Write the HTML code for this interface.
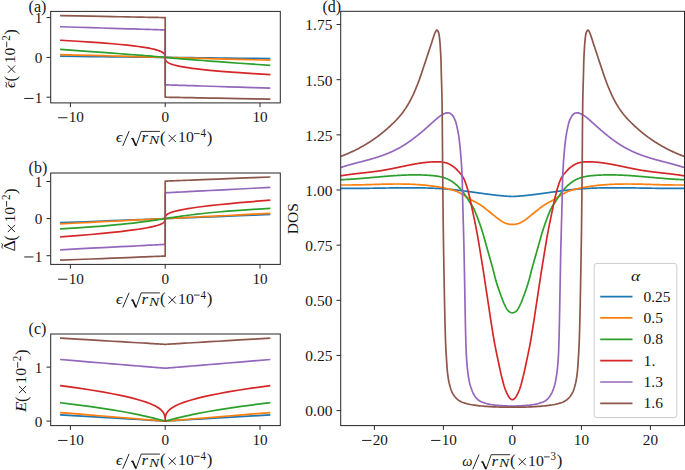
<!DOCTYPE html>
<html><head><meta charset="utf-8"><title>figure</title>
<style>
html,body{margin:0;padding:0;background:#fff;}
body{width:685px;height:470px;overflow:hidden;font-family:"Liberation Serif",serif;}
svg{display:block;}
</style></head><body>
<svg width="685" height="470" viewBox="0 0 685 470" font-family="'Liberation Serif', serif" fill="#161616">
<rect width="685" height="470" fill="#fff"/>
<clipPath id="cpa"><rect x="50.70" y="11.40" width="229.60" height="91.50"/></clipPath>
<g clip-path="url(#cpa)" fill="none" stroke-width="1.70" stroke-linejoin="round" stroke-linecap="square">
<path d="M60.92 56.21 L77.17 56.39 L90.89 56.55 L102.47 56.68 L112.25 56.79 L120.50 56.89 L127.47 56.97 L133.35 57.04 L138.31 57.09 L142.50 57.14 L146.04 57.18 L149.03 57.21 L151.55 57.24 L153.68 57.27 L155.47 57.29 L156.99 57.31 L158.27 57.32 L159.35 57.33 L160.26 57.34 L161.03 57.35 L161.68 57.36 L162.23 57.37 L162.69 57.37 L163.08 57.38 L163.41 57.38 L163.69 57.38 L163.93 57.39 L164.12 57.39 L164.29 57.39 L164.43 57.39 L164.55 57.39 L164.65 57.39 L164.74 57.39 L164.81 57.40 L164.87 57.40 L164.92 57.40 L164.97 57.40 L165.00 57.40 L165.03 57.40 L165.06 57.40 L165.08 57.40 L165.10 57.40 L165.12 57.40 L165.13 57.40 L165.14 57.40 L165.15 57.40 L165.16 57.40 L165.16 57.40 L165.17 57.40 L165.17 57.40 L165.18 57.40 L165.18 57.40 L165.18 57.40 L165.19 57.40 L165.19 57.40 L165.19 57.40 L165.19 57.40 L165.19 57.40 L165.19 57.40 L165.20 57.40 L165.20 57.40 L165.20 57.40 L165.20 57.40 L165.21 57.40 L165.21 57.40 L165.21 57.40 L165.21 57.40 L165.21 57.40 L165.21 57.40 L165.22 57.40 L165.22 57.40 L165.22 57.40 L165.23 57.40 L165.23 57.40 L165.24 57.40 L165.24 57.40 L165.25 57.40 L165.26 57.40 L165.27 57.40 L165.28 57.40 L165.30 57.40 L165.32 57.40 L165.34 57.40 L165.37 57.40 L165.40 57.40 L165.43 57.40 L165.48 57.40 L165.53 57.40 L165.59 57.40 L165.66 57.41 L165.75 57.41 L165.85 57.41 L165.97 57.41 L166.11 57.41 L166.28 57.41 L166.47 57.41 L166.71 57.42 L166.99 57.42 L167.32 57.42 L167.71 57.43 L168.17 57.43 L168.72 57.44 L169.37 57.45 L170.14 57.46 L171.05 57.47 L172.13 57.48 L173.41 57.49 L174.93 57.51 L176.72 57.53 L178.85 57.56 L181.37 57.59 L184.36 57.62 L187.90 57.66 L192.09 57.71 L197.05 57.76 L202.93 57.83 L209.90 57.91 L218.15 58.01 L227.93 58.12 L239.51 58.25 L253.23 58.41 L269.48 58.59" stroke="#1f77b4"/>
<path d="M60.92 54.61 L77.17 55.05 L90.89 55.41 L102.47 55.72 L112.25 55.99 L120.50 56.21 L127.47 56.39 L133.35 56.55 L138.31 56.68 L142.50 56.79 L146.04 56.89 L149.03 56.97 L151.55 57.04 L153.68 57.09 L155.47 57.14 L156.99 57.18 L158.27 57.21 L159.35 57.24 L160.26 57.27 L161.03 57.29 L161.68 57.31 L162.23 57.32 L162.69 57.33 L163.08 57.34 L163.41 57.35 L163.69 57.36 L163.93 57.37 L164.12 57.37 L164.29 57.38 L164.43 57.38 L164.55 57.38 L164.65 57.39 L164.74 57.39 L164.81 57.39 L164.87 57.39 L164.92 57.39 L164.97 57.39 L165.00 57.39 L165.03 57.40 L165.06 57.40 L165.08 57.40 L165.10 57.40 L165.12 57.40 L165.13 57.40 L165.14 57.40 L165.15 57.40 L165.16 57.40 L165.16 57.40 L165.17 57.40 L165.17 57.40 L165.18 57.40 L165.18 57.40 L165.18 57.40 L165.19 57.40 L165.19 57.40 L165.19 57.40 L165.19 57.40 L165.19 57.40 L165.19 57.40 L165.20 57.40 L165.20 57.40 L165.20 57.40 L165.20 57.40 L165.21 57.40 L165.21 57.40 L165.21 57.40 L165.21 57.40 L165.21 57.40 L165.21 57.40 L165.22 57.40 L165.22 57.40 L165.22 57.40 L165.23 57.40 L165.23 57.40 L165.24 57.40 L165.24 57.40 L165.25 57.40 L165.26 57.40 L165.27 57.40 L165.28 57.40 L165.30 57.40 L165.32 57.40 L165.34 57.40 L165.37 57.40 L165.40 57.41 L165.43 57.41 L165.48 57.41 L165.53 57.41 L165.59 57.41 L165.66 57.41 L165.75 57.41 L165.85 57.42 L165.97 57.42 L166.11 57.42 L166.28 57.43 L166.47 57.43 L166.71 57.44 L166.99 57.45 L167.32 57.46 L167.71 57.47 L168.17 57.48 L168.72 57.49 L169.37 57.51 L170.14 57.53 L171.05 57.56 L172.13 57.59 L173.41 57.62 L174.93 57.66 L176.72 57.71 L178.85 57.76 L181.37 57.83 L184.36 57.91 L187.90 58.01 L192.09 58.12 L197.05 58.25 L202.93 58.41 L209.90 58.59 L218.15 58.81 L227.93 59.08 L239.51 59.39 L253.23 59.75 L269.48 60.19" stroke="#ff7f0e"/>
<path d="M60.92 49.44 L77.17 50.59 L90.89 51.57 L102.47 52.41 L112.25 53.13 L120.50 53.75 L127.47 54.28 L133.35 54.73 L138.31 55.11 L142.50 55.44 L146.04 55.73 L149.03 55.97 L151.55 56.17 L153.68 56.35 L155.47 56.50 L156.99 56.63 L158.27 56.74 L159.35 56.84 L160.26 56.92 L161.03 56.99 L161.68 57.05 L162.23 57.10 L162.69 57.14 L163.08 57.18 L163.41 57.21 L163.69 57.24 L163.93 57.26 L164.12 57.28 L164.29 57.30 L164.43 57.31 L164.55 57.33 L164.65 57.34 L164.74 57.35 L164.81 57.35 L164.87 57.36 L164.92 57.37 L164.97 57.37 L165.00 57.38 L165.03 57.38 L165.06 57.38 L165.08 57.38 L165.10 57.39 L165.12 57.39 L165.13 57.39 L165.14 57.39 L165.15 57.39 L165.16 57.39 L165.16 57.39 L165.17 57.40 L165.17 57.40 L165.18 57.40 L165.18 57.40 L165.18 57.40 L165.19 57.40 L165.19 57.40 L165.19 57.40 L165.19 57.40 L165.19 57.40 L165.19 57.40 L165.20 57.40 L165.20 57.40 L165.20 57.40 L165.20 57.40 L165.21 57.40 L165.21 57.40 L165.21 57.40 L165.21 57.40 L165.21 57.40 L165.21 57.40 L165.22 57.40 L165.22 57.40 L165.22 57.40 L165.23 57.40 L165.23 57.40 L165.24 57.41 L165.24 57.41 L165.25 57.41 L165.26 57.41 L165.27 57.41 L165.28 57.41 L165.30 57.41 L165.32 57.42 L165.34 57.42 L165.37 57.42 L165.40 57.42 L165.43 57.43 L165.48 57.43 L165.53 57.44 L165.59 57.45 L165.66 57.45 L165.75 57.46 L165.85 57.47 L165.97 57.49 L166.11 57.50 L166.28 57.52 L166.47 57.54 L166.71 57.56 L166.99 57.59 L167.32 57.62 L167.71 57.66 L168.17 57.70 L168.72 57.75 L169.37 57.81 L170.14 57.88 L171.05 57.96 L172.13 58.06 L173.41 58.17 L174.93 58.30 L176.72 58.45 L178.85 58.63 L181.37 58.83 L184.36 59.07 L187.90 59.36 L192.09 59.69 L197.05 60.07 L202.93 60.52 L209.90 61.05 L218.15 61.67 L227.93 62.39 L239.51 63.23 L253.23 64.21 L269.48 65.36" stroke="#2ca02c"/>
<path d="M60.92 40.29 L77.17 41.23 L90.89 42.11 L102.47 42.95 L112.25 43.75 L120.50 44.50 L127.47 45.20 L133.35 45.87 L138.31 46.51 L142.50 47.11 L146.04 47.67 L149.03 48.21 L151.55 48.71 L153.68 49.19 L155.47 49.64 L156.99 50.06 L158.27 50.47 L159.35 50.85 L160.26 51.21 L161.03 51.55 L161.68 51.87 L162.23 52.17 L162.69 52.46 L163.08 52.73 L163.41 52.99 L163.69 53.23 L163.93 53.46 L164.12 53.68 L164.29 53.88 L164.43 54.07 L164.55 54.26 L164.65 54.43 L164.74 54.59 L164.81 54.75 L164.87 54.89 L164.92 55.03 L164.97 55.16 L165.00 55.28 L165.03 55.40 L165.06 55.51 L165.08 55.61 L165.10 55.71 L165.12 55.80 L165.13 55.89 L165.14 55.97 L165.15 56.05 L165.16 56.13 L165.16 56.20 L165.17 56.26 L165.17 56.32 L165.18 56.38 L165.18 56.44 L165.18 56.49 L165.19 56.54 L165.19 56.59 L165.19 56.63 L165.19 56.68 L165.19 56.72 L165.19 56.75 L165.20 56.79 L165.20 57.39 L165.20 57.41 L165.20 58.01 L165.21 58.05 L165.21 58.08 L165.21 58.12 L165.21 58.17 L165.21 58.21 L165.21 58.26 L165.22 58.31 L165.22 58.36 L165.22 58.42 L165.23 58.48 L165.23 58.54 L165.24 58.60 L165.24 58.67 L165.25 58.75 L165.26 58.83 L165.27 58.91 L165.28 59.00 L165.30 59.09 L165.32 59.19 L165.34 59.29 L165.37 59.40 L165.40 59.52 L165.43 59.64 L165.48 59.77 L165.53 59.91 L165.59 60.05 L165.66 60.21 L165.75 60.37 L165.85 60.54 L165.97 60.73 L166.11 60.92 L166.28 61.12 L166.47 61.34 L166.71 61.57 L166.99 61.81 L167.32 62.07 L167.71 62.34 L168.17 62.63 L168.72 62.93 L169.37 63.25 L170.14 63.59 L171.05 63.95 L172.13 64.33 L173.41 64.74 L174.93 65.16 L176.72 65.61 L178.85 66.09 L181.37 66.59 L184.36 67.13 L187.90 67.69 L192.09 68.29 L197.05 68.93 L202.93 69.60 L209.90 70.30 L218.15 71.05 L227.93 71.85 L239.51 72.69 L253.23 73.57 L269.48 74.51" stroke="#d62728"/>
<path d="M60.92 26.75 L77.17 27.25 L90.89 27.67 L102.47 28.02 L112.25 28.32 L120.50 28.57 L127.47 28.79 L133.35 28.97 L138.31 29.12 L142.50 29.25 L146.04 29.35 L149.03 29.44 L151.55 29.52 L153.68 29.59 L155.47 29.64 L156.99 29.69 L158.27 29.73 L159.35 29.76 L160.26 29.79 L161.03 29.81 L161.68 29.83 L162.23 29.85 L162.69 29.86 L163.08 29.87 L163.41 29.88 L163.69 29.89 L163.93 29.90 L164.12 29.91 L164.29 29.91 L164.43 29.91 L164.55 29.92 L164.65 29.92 L164.74 29.92 L164.81 29.93 L164.87 29.93 L164.92 29.93 L164.97 29.93 L165.00 29.93 L165.03 29.93 L165.06 29.93 L165.08 29.93 L165.10 29.93 L165.12 29.94 L165.13 29.94 L165.14 29.94 L165.15 29.94 L165.16 29.94 L165.16 29.94 L165.17 29.94 L165.17 29.94 L165.18 29.94 L165.18 29.94 L165.18 29.94 L165.19 29.94 L165.19 29.94 L165.19 29.94 L165.19 29.94 L165.19 29.94 L165.19 29.94 L165.20 29.94 L165.20 29.94 L165.20 84.86 L165.20 84.86 L165.21 84.86 L165.21 84.86 L165.21 84.86 L165.21 84.86 L165.21 84.86 L165.21 84.86 L165.22 84.86 L165.22 84.86 L165.22 84.86 L165.23 84.86 L165.23 84.86 L165.24 84.86 L165.24 84.86 L165.25 84.86 L165.26 84.86 L165.27 84.86 L165.28 84.86 L165.30 84.87 L165.32 84.87 L165.34 84.87 L165.37 84.87 L165.40 84.87 L165.43 84.87 L165.48 84.87 L165.53 84.87 L165.59 84.87 L165.66 84.88 L165.75 84.88 L165.85 84.88 L165.97 84.89 L166.11 84.89 L166.28 84.89 L166.47 84.90 L166.71 84.91 L166.99 84.92 L167.32 84.93 L167.71 84.94 L168.17 84.95 L168.72 84.97 L169.37 84.99 L170.14 85.01 L171.05 85.04 L172.13 85.07 L173.41 85.11 L174.93 85.16 L176.72 85.21 L178.85 85.28 L181.37 85.36 L184.36 85.45 L187.90 85.55 L192.09 85.68 L197.05 85.83 L202.93 86.01 L209.90 86.23 L218.15 86.48 L227.93 86.78 L239.51 87.13 L253.23 87.55 L269.48 88.05" stroke="#9467bd"/>
<path d="M60.92 15.61 L77.17 15.92 L90.89 16.18 L102.47 16.40 L112.25 16.59 L120.50 16.75 L127.47 16.88 L133.35 16.99 L138.31 17.09 L142.50 17.17 L146.04 17.23 L149.03 17.29 L151.55 17.34 L153.68 17.38 L155.47 17.41 L156.99 17.44 L158.27 17.47 L159.35 17.49 L160.26 17.51 L161.03 17.52 L161.68 17.53 L162.23 17.54 L162.69 17.55 L163.08 17.56 L163.41 17.57 L163.69 17.57 L163.93 17.58 L164.12 17.58 L164.29 17.58 L164.43 17.59 L164.55 17.59 L164.65 17.59 L164.74 17.59 L164.81 17.59 L164.87 17.59 L164.92 17.59 L164.97 17.60 L165.00 17.60 L165.03 17.60 L165.06 17.60 L165.08 17.60 L165.10 17.60 L165.12 17.60 L165.13 17.60 L165.14 17.60 L165.15 17.60 L165.16 17.60 L165.16 17.60 L165.17 17.60 L165.17 17.60 L165.18 17.60 L165.18 17.60 L165.18 17.60 L165.19 17.60 L165.19 17.60 L165.19 17.60 L165.19 17.60 L165.19 17.60 L165.19 17.60 L165.20 17.60 L165.20 17.60 L165.20 97.20 L165.20 97.20 L165.21 97.20 L165.21 97.20 L165.21 97.20 L165.21 97.20 L165.21 97.20 L165.21 97.20 L165.22 97.20 L165.22 97.20 L165.22 97.20 L165.23 97.20 L165.23 97.20 L165.24 97.20 L165.24 97.20 L165.25 97.20 L165.26 97.20 L165.27 97.20 L165.28 97.20 L165.30 97.20 L165.32 97.20 L165.34 97.20 L165.37 97.20 L165.40 97.20 L165.43 97.20 L165.48 97.21 L165.53 97.21 L165.59 97.21 L165.66 97.21 L165.75 97.21 L165.85 97.21 L165.97 97.21 L166.11 97.22 L166.28 97.22 L166.47 97.22 L166.71 97.23 L166.99 97.23 L167.32 97.24 L167.71 97.25 L168.17 97.26 L168.72 97.27 L169.37 97.28 L170.14 97.29 L171.05 97.31 L172.13 97.33 L173.41 97.36 L174.93 97.39 L176.72 97.42 L178.85 97.46 L181.37 97.51 L184.36 97.57 L187.90 97.63 L192.09 97.71 L197.05 97.81 L202.93 97.92 L209.90 98.05 L218.15 98.21 L227.93 98.40 L239.51 98.62 L253.23 98.88 L269.48 99.19" stroke="#8c564b"/>
</g>
<rect x="50.70" y="11.40" width="229.60" height="91.50" fill="none" stroke="#262626" stroke-width="1"/>
<line x1="70.40" y1="102.90" x2="70.40" y2="107.10" stroke="#262626" stroke-width="1"/>
<line x1="58.15" y1="117.74" x2="67.44" y2="117.74" stroke="#161616" stroke-width="0.95"/>
<text x="68.71" y="122.30" font-size="15.2" textLength="15.20" lengthAdjust="spacingAndGlyphs">10</text>
<line x1="165.20" y1="102.90" x2="165.20" y2="107.10" stroke="#262626" stroke-width="1"/>
<text x="161.40" y="122.30" font-size="15.2" textLength="7.60" lengthAdjust="spacingAndGlyphs">0</text>
<line x1="260.00" y1="102.90" x2="260.00" y2="107.10" stroke="#262626" stroke-width="1"/>
<text x="252.40" y="122.30" font-size="15.2" textLength="15.20" lengthAdjust="spacingAndGlyphs">10</text>
<line x1="46.50" y1="17.60" x2="50.70" y2="17.60" stroke="#262626" stroke-width="1"/>
<text x="34.80" y="23.40" font-size="15.2" textLength="7.60" lengthAdjust="spacingAndGlyphs">1</text>
<line x1="46.50" y1="57.40" x2="50.70" y2="57.40" stroke="#262626" stroke-width="1"/>
<text x="34.80" y="63.20" font-size="15.2" textLength="7.60" lengthAdjust="spacingAndGlyphs">0</text>
<line x1="46.50" y1="97.20" x2="50.70" y2="97.20" stroke="#262626" stroke-width="1"/>
<line x1="24.24" y1="98.44" x2="33.52" y2="98.44" stroke="#161616" stroke-width="0.95"/>
<text x="34.80" y="103.00" font-size="15.2" textLength="7.60" lengthAdjust="spacingAndGlyphs">1</text>
<text x="116.10" y="142.20" font-size="15.2" textLength="6.40" lengthAdjust="spacingAndGlyphs" font-style="italic">ϵ</text>
<line x1="122.80" y1="146.00" x2="129.10" y2="131.20" stroke="#161616" stroke-width="0.95"/>
<path d="M130.90 139.00 l1.5 -0.9 l3.6 7.9 l5.2 -14.6 h18.7" fill="none" stroke="#161616" stroke-width="0.9" stroke-linejoin="miter"/>
<path d="M132.50 138.20 l3.3 7.4" fill="none" stroke="#161616" stroke-width="1.6"/>
<text x="141.50" y="142.20" font-size="15.4" textLength="6.6" lengthAdjust="spacingAndGlyphs" font-style="italic">r</text>
<text x="148.90" y="144.10" font-size="11.6" textLength="10.3" lengthAdjust="spacingAndGlyphs" font-style="italic">N</text>
<text x="159.90" y="142.50" font-size="16.8">(</text>
<path d="M168.60 134.80 L175.80 142.00 M168.60 142.00 L175.80 134.80" stroke="#161616" stroke-width="0.95" fill="none"/>
<text x="178.10" y="142.20" font-size="15.2" textLength="15.7" lengthAdjust="spacingAndGlyphs">10</text>
<line x1="194.00" y1="133.60" x2="199.70" y2="133.60" stroke="#161616" stroke-width="0.85"/>
<text x="200.60" y="137.00" font-size="12.2" textLength="5.5" lengthAdjust="spacingAndGlyphs">4</text>
<text x="206.70" y="142.50" font-size="16.8">)</text>
<g transform="translate(15.30 57.45) rotate(-90)">
<text x="-30.60" y="0" font-size="14.6" textLength="6.4" lengthAdjust="spacingAndGlyphs" font-style="italic">ϵ</text>
<path d="M-30.00 -8.3 q1.3 -1.7 2.7 -0.7 t2.7 -0.7" fill="none" stroke="#161616" stroke-width="0.9"/>
<text x="-24.00" y="0.30" font-size="16.8">(</text>
<path d="M-15.30 -7.40 L-8.10 -0.20 M-15.30 -0.20 L-8.10 -7.40" stroke="#161616" stroke-width="0.95" fill="none"/>
<text x="-5.80" y="0.00" font-size="15.2" textLength="15.7" lengthAdjust="spacingAndGlyphs">10</text>
<line x1="10.10" y1="-8.60" x2="15.80" y2="-8.60" stroke="#161616" stroke-width="0.85"/>
<text x="16.70" y="-5.20" font-size="12.2" textLength="5.5" lengthAdjust="spacingAndGlyphs">2</text>
<text x="22.80" y="0.30" font-size="16.8">)</text>
</g>
<text x="28.6" y="11.70" font-size="16.0">(a)</text>
<clipPath id="cpb"><rect x="50.70" y="173.00" width="229.60" height="91.40"/></clipPath>
<g clip-path="url(#cpb)" fill="none" stroke-width="1.70" stroke-linejoin="round" stroke-linecap="square">
<path d="M60.92 222.68 L77.17 222.04 L90.89 221.51 L102.47 221.05 L112.25 220.67 L120.50 220.35 L127.47 220.08 L133.35 219.85 L138.31 219.65 L142.50 219.49 L146.04 219.35 L149.03 219.23 L151.55 219.13 L153.68 219.05 L155.47 218.98 L156.99 218.92 L158.27 218.87 L159.35 218.83 L160.26 218.79 L161.03 218.76 L161.68 218.74 L162.23 218.72 L162.69 218.70 L163.08 218.68 L163.41 218.67 L163.69 218.66 L163.93 218.65 L164.12 218.64 L164.29 218.64 L164.43 218.63 L164.55 218.63 L164.65 218.62 L164.74 218.62 L164.81 218.62 L164.87 218.61 L164.92 218.61 L164.97 218.61 L165.00 218.61 L165.03 218.61 L165.06 218.61 L165.08 218.60 L165.10 218.60 L165.12 218.60 L165.13 218.60 L165.14 218.60 L165.15 218.60 L165.16 218.60 L165.16 218.60 L165.17 218.60 L165.17 218.60 L165.18 218.60 L165.18 218.60 L165.18 218.60 L165.19 218.60 L165.19 218.60 L165.19 218.60 L165.19 218.60 L165.19 218.60 L165.19 218.60 L165.20 218.60 L165.20 218.60 L165.20 218.60 L165.20 218.60 L165.21 218.60 L165.21 218.60 L165.21 218.60 L165.21 218.60 L165.21 218.60 L165.21 218.60 L165.22 218.60 L165.22 218.60 L165.22 218.60 L165.23 218.60 L165.23 218.60 L165.24 218.60 L165.24 218.60 L165.25 218.60 L165.26 218.60 L165.27 218.60 L165.28 218.60 L165.30 218.60 L165.32 218.60 L165.34 218.59 L165.37 218.59 L165.40 218.59 L165.43 218.59 L165.48 218.59 L165.53 218.59 L165.59 218.58 L165.66 218.58 L165.75 218.58 L165.85 218.57 L165.97 218.57 L166.11 218.56 L166.28 218.56 L166.47 218.55 L166.71 218.54 L166.99 218.53 L167.32 218.52 L167.71 218.50 L168.17 218.48 L168.72 218.46 L169.37 218.44 L170.14 218.41 L171.05 218.37 L172.13 218.33 L173.41 218.28 L174.93 218.22 L176.72 218.15 L178.85 218.07 L181.37 217.97 L184.36 217.85 L187.90 217.71 L192.09 217.55 L197.05 217.35 L202.93 217.12 L209.90 216.85 L218.15 216.53 L227.93 216.15 L239.51 215.69 L253.23 215.16 L269.48 214.52" stroke="#1f77b4"/>
<path d="M60.92 223.79 L77.17 222.98 L90.89 222.30 L102.47 221.72 L112.25 221.24 L120.50 220.83 L127.47 220.48 L133.35 220.19 L138.31 219.94 L142.50 219.73 L146.04 219.55 L149.03 219.41 L151.55 219.28 L153.68 219.17 L155.47 219.08 L156.99 219.01 L158.27 218.95 L159.35 218.89 L160.26 218.85 L161.03 218.81 L161.68 218.78 L162.23 218.75 L162.69 218.72 L163.08 218.71 L163.41 218.69 L163.69 218.68 L163.93 218.66 L164.12 218.65 L164.29 218.65 L164.43 218.64 L164.55 218.63 L164.65 218.63 L164.74 218.62 L164.81 218.62 L164.87 218.62 L164.92 218.61 L164.97 218.61 L165.00 218.61 L165.03 218.61 L165.06 218.61 L165.08 218.61 L165.10 218.60 L165.12 218.60 L165.13 218.60 L165.14 218.60 L165.15 218.60 L165.16 218.60 L165.16 218.60 L165.17 218.60 L165.17 218.60 L165.18 218.60 L165.18 218.60 L165.18 218.60 L165.19 218.60 L165.19 218.60 L165.19 218.60 L165.19 218.60 L165.19 218.60 L165.19 218.60 L165.20 218.60 L165.20 218.60 L165.20 218.60 L165.20 218.60 L165.21 218.60 L165.21 218.60 L165.21 218.60 L165.21 218.60 L165.21 218.60 L165.21 218.60 L165.22 218.60 L165.22 218.60 L165.22 218.60 L165.23 218.60 L165.23 218.60 L165.24 218.60 L165.24 218.60 L165.25 218.60 L165.26 218.60 L165.27 218.60 L165.28 218.60 L165.30 218.60 L165.32 218.59 L165.34 218.59 L165.37 218.59 L165.40 218.59 L165.43 218.59 L165.48 218.59 L165.53 218.58 L165.59 218.58 L165.66 218.58 L165.75 218.57 L165.85 218.57 L165.97 218.56 L166.11 218.55 L166.28 218.55 L166.47 218.54 L166.71 218.52 L166.99 218.51 L167.32 218.49 L167.71 218.48 L168.17 218.45 L168.72 218.42 L169.37 218.39 L170.14 218.35 L171.05 218.31 L172.13 218.25 L173.41 218.19 L174.93 218.12 L176.72 218.03 L178.85 217.92 L181.37 217.79 L184.36 217.65 L187.90 217.47 L192.09 217.26 L197.05 217.01 L202.93 216.72 L209.90 216.37 L218.15 215.96 L227.93 215.48 L239.51 214.90 L253.23 214.22 L269.48 213.41" stroke="#ff7f0e"/>
<path d="M60.92 228.80 L77.17 227.83 L90.89 226.91 L102.47 226.03 L112.25 225.21 L120.50 224.43 L127.47 223.71 L133.35 223.06 L138.31 222.46 L142.50 221.93 L146.04 221.45 L149.03 221.04 L151.55 220.68 L153.68 220.36 L155.47 220.10 L156.99 219.87 L158.27 219.67 L159.35 219.51 L160.26 219.37 L161.03 219.25 L161.68 219.15 L162.23 219.06 L162.69 218.99 L163.08 218.93 L163.41 218.88 L163.69 218.83 L163.93 218.80 L164.12 218.77 L164.29 218.74 L164.43 218.72 L164.55 218.70 L164.65 218.69 L164.74 218.67 L164.81 218.66 L164.87 218.65 L164.92 218.64 L164.97 218.64 L165.00 218.63 L165.03 218.63 L165.06 218.62 L165.08 218.62 L165.10 218.62 L165.12 218.61 L165.13 218.61 L165.14 218.61 L165.15 218.61 L165.16 218.61 L165.16 218.61 L165.17 218.60 L165.17 218.60 L165.18 218.60 L165.18 218.60 L165.18 218.60 L165.19 218.60 L165.19 218.60 L165.19 218.60 L165.19 218.60 L165.19 218.60 L165.19 218.60 L165.20 218.60 L165.20 218.60 L165.20 218.60 L165.20 218.60 L165.21 218.60 L165.21 218.60 L165.21 218.60 L165.21 218.60 L165.21 218.60 L165.21 218.60 L165.22 218.60 L165.22 218.60 L165.22 218.60 L165.23 218.60 L165.23 218.60 L165.24 218.59 L165.24 218.59 L165.25 218.59 L165.26 218.59 L165.27 218.59 L165.28 218.59 L165.30 218.58 L165.32 218.58 L165.34 218.58 L165.37 218.57 L165.40 218.57 L165.43 218.56 L165.48 218.56 L165.53 218.55 L165.59 218.54 L165.66 218.53 L165.75 218.51 L165.85 218.50 L165.97 218.48 L166.11 218.46 L166.28 218.43 L166.47 218.40 L166.71 218.37 L166.99 218.32 L167.32 218.27 L167.71 218.21 L168.17 218.14 L168.72 218.05 L169.37 217.95 L170.14 217.83 L171.05 217.69 L172.13 217.53 L173.41 217.33 L174.93 217.10 L176.72 216.84 L178.85 216.52 L181.37 216.16 L184.36 215.75 L187.90 215.27 L192.09 214.74 L197.05 214.14 L202.93 213.49 L209.90 212.77 L218.15 211.99 L227.93 211.17 L239.51 210.29 L253.23 209.37 L269.48 208.40" stroke="#2ca02c"/>
<path d="M60.92 236.96 L77.17 235.67 L90.89 234.50 L102.47 233.42 L112.25 232.44 L120.50 231.54 L127.47 230.71 L133.35 229.94 L138.31 229.23 L142.50 228.58 L146.04 227.97 L149.03 227.40 L151.55 226.87 L153.68 226.38 L155.47 225.92 L156.99 225.50 L158.27 225.10 L159.35 224.72 L160.26 224.37 L161.03 224.04 L161.68 223.73 L162.23 223.44 L162.69 223.16 L163.08 222.91 L163.41 222.66 L163.69 222.44 L163.93 222.22 L164.12 222.02 L164.29 221.83 L164.43 221.65 L164.55 221.48 L164.65 221.32 L164.74 221.17 L164.81 221.03 L164.87 220.89 L164.92 220.77 L164.97 220.65 L165.00 220.53 L165.03 220.43 L165.06 220.33 L165.08 220.23 L165.10 220.14 L165.12 220.06 L165.13 219.98 L165.14 219.90 L165.15 219.83 L165.16 219.76 L165.16 219.70 L165.17 219.64 L165.17 219.58 L165.18 219.53 L165.18 219.47 L165.18 219.43 L165.19 219.38 L165.19 219.34 L165.19 219.30 L165.19 219.26 L165.19 219.22 L165.19 219.19 L165.20 219.16 L165.20 218.61 L165.20 218.59 L165.20 218.04 L165.21 218.01 L165.21 217.98 L165.21 217.94 L165.21 217.90 L165.21 217.86 L165.21 217.82 L165.22 217.77 L165.22 217.73 L165.22 217.67 L165.23 217.62 L165.23 217.56 L165.24 217.50 L165.24 217.44 L165.25 217.37 L165.26 217.30 L165.27 217.22 L165.28 217.14 L165.30 217.06 L165.32 216.97 L165.34 216.87 L165.37 216.77 L165.40 216.67 L165.43 216.55 L165.48 216.43 L165.53 216.31 L165.59 216.17 L165.66 216.03 L165.75 215.88 L165.85 215.72 L165.97 215.55 L166.11 215.37 L166.28 215.18 L166.47 214.98 L166.71 214.76 L166.99 214.54 L167.32 214.29 L167.71 214.04 L168.17 213.76 L168.72 213.47 L169.37 213.16 L170.14 212.83 L171.05 212.48 L172.13 212.10 L173.41 211.70 L174.93 211.28 L176.72 210.82 L178.85 210.33 L181.37 209.80 L184.36 209.23 L187.90 208.62 L192.09 207.97 L197.05 207.26 L202.93 206.49 L209.90 205.66 L218.15 204.76 L227.93 203.78 L239.51 202.70 L253.23 201.53 L269.48 200.24" stroke="#d62728"/>
<path d="M60.92 249.76 L77.17 248.93 L90.89 248.22 L102.47 247.62 L112.25 247.12 L120.50 246.69 L127.47 246.33 L133.35 246.03 L138.31 245.77 L142.50 245.56 L146.04 245.37 L149.03 245.22 L151.55 245.09 L153.68 244.98 L155.47 244.89 L156.99 244.81 L158.27 244.74 L159.35 244.69 L160.26 244.64 L161.03 244.60 L161.68 244.57 L162.23 244.54 L162.69 244.51 L163.08 244.49 L163.41 244.48 L163.69 244.46 L163.93 244.45 L164.12 244.44 L164.29 244.43 L164.43 244.42 L164.55 244.42 L164.65 244.41 L164.74 244.41 L164.81 244.40 L164.87 244.40 L164.92 244.40 L164.97 244.40 L165.00 244.39 L165.03 244.39 L165.06 244.39 L165.08 244.39 L165.10 244.39 L165.12 244.39 L165.13 244.39 L165.14 244.39 L165.15 244.39 L165.16 244.39 L165.16 244.39 L165.17 244.39 L165.17 244.39 L165.18 244.39 L165.18 244.39 L165.18 244.39 L165.19 244.39 L165.19 244.39 L165.19 244.38 L165.19 244.38 L165.19 244.38 L165.19 244.38 L165.20 244.38 L165.20 244.38 L165.20 192.82 L165.20 192.82 L165.21 192.82 L165.21 192.82 L165.21 192.82 L165.21 192.82 L165.21 192.81 L165.21 192.81 L165.22 192.81 L165.22 192.81 L165.22 192.81 L165.23 192.81 L165.23 192.81 L165.24 192.81 L165.24 192.81 L165.25 192.81 L165.26 192.81 L165.27 192.81 L165.28 192.81 L165.30 192.81 L165.32 192.81 L165.34 192.81 L165.37 192.81 L165.40 192.81 L165.43 192.80 L165.48 192.80 L165.53 192.80 L165.59 192.80 L165.66 192.79 L165.75 192.79 L165.85 192.78 L165.97 192.78 L166.11 192.77 L166.28 192.76 L166.47 192.75 L166.71 192.74 L166.99 192.72 L167.32 192.71 L167.71 192.69 L168.17 192.66 L168.72 192.63 L169.37 192.60 L170.14 192.56 L171.05 192.51 L172.13 192.46 L173.41 192.39 L174.93 192.31 L176.72 192.22 L178.85 192.11 L181.37 191.98 L184.36 191.83 L187.90 191.64 L192.09 191.43 L197.05 191.17 L202.93 190.87 L209.90 190.51 L218.15 190.08 L227.93 189.58 L239.51 188.98 L253.23 188.27 L269.48 187.44" stroke="#9467bd"/>
<path d="M60.92 260.15 L77.17 259.52 L90.89 258.98 L102.47 258.53 L112.25 258.14 L120.50 257.82 L127.47 257.55 L133.35 257.32 L138.31 257.12 L142.50 256.96 L146.04 256.82 L149.03 256.70 L151.55 256.61 L153.68 256.52 L155.47 256.45 L156.99 256.39 L158.27 256.34 L159.35 256.30 L160.26 256.26 L161.03 256.23 L161.68 256.21 L162.23 256.19 L162.69 256.17 L163.08 256.15 L163.41 256.14 L163.69 256.13 L163.93 256.12 L164.12 256.11 L164.29 256.11 L164.43 256.10 L164.55 256.10 L164.65 256.09 L164.74 256.09 L164.81 256.09 L164.87 256.08 L164.92 256.08 L164.97 256.08 L165.00 256.08 L165.03 256.08 L165.06 256.08 L165.08 256.08 L165.10 256.07 L165.12 256.07 L165.13 256.07 L165.14 256.07 L165.15 256.07 L165.16 256.07 L165.16 256.07 L165.17 256.07 L165.17 256.07 L165.18 256.07 L165.18 256.07 L165.18 256.07 L165.19 256.07 L165.19 256.07 L165.19 256.07 L165.19 256.07 L165.19 256.07 L165.19 256.07 L165.20 256.07 L165.20 256.07 L165.20 181.13 L165.20 181.13 L165.21 181.13 L165.21 181.13 L165.21 181.13 L165.21 181.13 L165.21 181.13 L165.21 181.13 L165.22 181.13 L165.22 181.13 L165.22 181.13 L165.23 181.13 L165.23 181.13 L165.24 181.13 L165.24 181.13 L165.25 181.13 L165.26 181.13 L165.27 181.13 L165.28 181.13 L165.30 181.13 L165.32 181.12 L165.34 181.12 L165.37 181.12 L165.40 181.12 L165.43 181.12 L165.48 181.12 L165.53 181.12 L165.59 181.11 L165.66 181.11 L165.75 181.11 L165.85 181.10 L165.97 181.10 L166.11 181.09 L166.28 181.09 L166.47 181.08 L166.71 181.07 L166.99 181.06 L167.32 181.05 L167.71 181.03 L168.17 181.01 L168.72 180.99 L169.37 180.97 L170.14 180.94 L171.05 180.90 L172.13 180.86 L173.41 180.81 L174.93 180.75 L176.72 180.68 L178.85 180.59 L181.37 180.50 L184.36 180.38 L187.90 180.24 L192.09 180.08 L197.05 179.88 L202.93 179.65 L209.90 179.38 L218.15 179.06 L227.93 178.67 L239.51 178.22 L253.23 177.68 L269.48 177.05" stroke="#8c564b"/>
</g>
<rect x="50.70" y="173.00" width="229.60" height="91.40" fill="none" stroke="#262626" stroke-width="1"/>
<line x1="70.40" y1="264.40" x2="70.40" y2="268.60" stroke="#262626" stroke-width="1"/>
<line x1="58.15" y1="279.24" x2="67.44" y2="279.24" stroke="#161616" stroke-width="0.95"/>
<text x="68.71" y="283.80" font-size="15.2" textLength="15.20" lengthAdjust="spacingAndGlyphs">10</text>
<line x1="165.20" y1="264.40" x2="165.20" y2="268.60" stroke="#262626" stroke-width="1"/>
<text x="161.40" y="283.80" font-size="15.2" textLength="7.60" lengthAdjust="spacingAndGlyphs">0</text>
<line x1="260.00" y1="264.40" x2="260.00" y2="268.60" stroke="#262626" stroke-width="1"/>
<text x="252.40" y="283.80" font-size="15.2" textLength="15.20" lengthAdjust="spacingAndGlyphs">10</text>
<line x1="46.50" y1="181.50" x2="50.70" y2="181.50" stroke="#262626" stroke-width="1"/>
<text x="34.80" y="187.30" font-size="15.2" textLength="7.60" lengthAdjust="spacingAndGlyphs">1</text>
<line x1="46.50" y1="218.60" x2="50.70" y2="218.60" stroke="#262626" stroke-width="1"/>
<text x="34.80" y="224.40" font-size="15.2" textLength="7.60" lengthAdjust="spacingAndGlyphs">0</text>
<line x1="46.50" y1="255.70" x2="50.70" y2="255.70" stroke="#262626" stroke-width="1"/>
<line x1="24.24" y1="256.94" x2="33.52" y2="256.94" stroke="#161616" stroke-width="0.95"/>
<text x="34.80" y="261.50" font-size="15.2" textLength="7.60" lengthAdjust="spacingAndGlyphs">1</text>
<text x="116.10" y="303.70" font-size="15.2" textLength="6.40" lengthAdjust="spacingAndGlyphs" font-style="italic">ϵ</text>
<line x1="122.80" y1="307.50" x2="129.10" y2="292.70" stroke="#161616" stroke-width="0.95"/>
<path d="M130.90 300.50 l1.5 -0.9 l3.6 7.9 l5.2 -14.6 h18.7" fill="none" stroke="#161616" stroke-width="0.9" stroke-linejoin="miter"/>
<path d="M132.50 299.70 l3.3 7.4" fill="none" stroke="#161616" stroke-width="1.6"/>
<text x="141.50" y="303.70" font-size="15.4" textLength="6.6" lengthAdjust="spacingAndGlyphs" font-style="italic">r</text>
<text x="148.90" y="305.60" font-size="11.6" textLength="10.3" lengthAdjust="spacingAndGlyphs" font-style="italic">N</text>
<text x="159.90" y="304.00" font-size="16.8">(</text>
<path d="M168.60 296.30 L175.80 303.50 M168.60 303.50 L175.80 296.30" stroke="#161616" stroke-width="0.95" fill="none"/>
<text x="178.10" y="303.70" font-size="15.2" textLength="15.7" lengthAdjust="spacingAndGlyphs">10</text>
<line x1="194.00" y1="295.10" x2="199.70" y2="295.10" stroke="#161616" stroke-width="0.85"/>
<text x="200.60" y="298.50" font-size="12.2" textLength="5.5" lengthAdjust="spacingAndGlyphs">4</text>
<text x="206.70" y="304.00" font-size="16.8">)</text>
<g transform="translate(15.20 219.00) rotate(-90)">
<text x="-32.60" y="0" font-size="16.0" textLength="11.4" lengthAdjust="spacingAndGlyphs">Δ</text>
<path d="M-29.60 -12.3 q1.3 -1.7 2.7 -0.7 t2.7 -0.7" fill="none" stroke="#161616" stroke-width="0.9"/>
<text x="-21.80" y="0.30" font-size="16.8">(</text>
<path d="M-13.10 -7.40 L-5.90 -0.20 M-13.10 -0.20 L-5.90 -7.40" stroke="#161616" stroke-width="0.95" fill="none"/>
<text x="-3.60" y="0.00" font-size="15.2" textLength="15.7" lengthAdjust="spacingAndGlyphs">10</text>
<line x1="12.30" y1="-8.60" x2="18.00" y2="-8.60" stroke="#161616" stroke-width="0.85"/>
<text x="18.90" y="-5.20" font-size="12.2" textLength="5.5" lengthAdjust="spacingAndGlyphs">2</text>
<text x="25.00" y="0.30" font-size="16.8">)</text>
</g>
<text x="28.6" y="173.30" font-size="16.0">(b)</text>
<clipPath id="cpc"><rect x="50.70" y="334.00" width="229.60" height="91.60"/></clipPath>
<g clip-path="url(#cpc)" fill="none" stroke-width="1.70" stroke-linejoin="round" stroke-linecap="square">
<path d="M60.92 414.94 L77.17 415.90 L90.89 416.71 L102.47 417.40 L112.25 417.97 L120.50 418.46 L127.47 418.87 L133.35 419.22 L138.31 419.51 L142.50 419.76 L146.04 419.97 L149.03 420.15 L151.55 420.29 L153.68 420.42 L155.47 420.53 L156.99 420.62 L158.27 420.69 L159.35 420.75 L160.26 420.81 L161.03 420.85 L161.68 420.89 L162.23 420.92 L162.69 420.95 L163.08 420.97 L163.41 420.99 L163.69 421.01 L163.93 421.02 L164.12 421.04 L164.29 421.05 L164.43 421.05 L164.55 421.06 L164.65 421.07 L164.74 421.07 L164.81 421.08 L164.87 421.08 L164.92 421.08 L164.97 421.09 L165.00 421.09 L165.03 421.09 L165.06 421.09 L165.08 421.09 L165.10 421.09 L165.12 421.10 L165.13 421.10 L165.14 421.10 L165.15 421.10 L165.16 421.10 L165.16 421.10 L165.17 421.10 L165.17 421.10 L165.18 421.10 L165.18 421.10 L165.18 421.10 L165.19 421.10 L165.19 421.10 L165.19 421.10 L165.19 421.10 L165.19 421.10 L165.19 421.10 L165.20 421.10 L165.20 421.10 L165.20 421.10 L165.20 421.10 L165.21 421.10 L165.21 421.10 L165.21 421.10 L165.21 421.10 L165.21 421.10 L165.21 421.10 L165.22 421.10 L165.22 421.10 L165.22 421.10 L165.23 421.10 L165.23 421.10 L165.24 421.10 L165.24 421.10 L165.25 421.10 L165.26 421.10 L165.27 421.10 L165.28 421.10 L165.30 421.09 L165.32 421.09 L165.34 421.09 L165.37 421.09 L165.40 421.09 L165.43 421.09 L165.48 421.08 L165.53 421.08 L165.59 421.08 L165.66 421.07 L165.75 421.07 L165.85 421.06 L165.97 421.05 L166.11 421.05 L166.28 421.04 L166.47 421.02 L166.71 421.01 L166.99 420.99 L167.32 420.97 L167.71 420.95 L168.17 420.92 L168.72 420.89 L169.37 420.85 L170.14 420.81 L171.05 420.75 L172.13 420.69 L173.41 420.62 L174.93 420.53 L176.72 420.42 L178.85 420.29 L181.37 420.15 L184.36 419.97 L187.90 419.76 L192.09 419.51 L197.05 419.22 L202.93 418.87 L209.90 418.46 L218.15 417.97 L227.93 417.40 L239.51 416.71 L253.23 415.90 L269.48 414.94" stroke="#1f77b4"/>
<path d="M60.92 412.65 L77.17 413.97 L90.89 415.08 L102.47 416.02 L112.25 416.81 L120.50 417.48 L127.47 418.04 L133.35 418.52 L138.31 418.92 L142.50 419.26 L146.04 419.55 L149.03 419.79 L151.55 419.99 L153.68 420.17 L155.47 420.31 L156.99 420.43 L158.27 420.54 L159.35 420.63 L160.26 420.70 L161.03 420.76 L161.68 420.81 L162.23 420.86 L162.69 420.90 L163.08 420.93 L163.41 420.96 L163.69 420.98 L163.93 421.00 L164.12 421.01 L164.29 421.03 L164.43 421.04 L164.55 421.05 L164.65 421.06 L164.74 421.06 L164.81 421.07 L164.87 421.07 L164.92 421.08 L164.97 421.08 L165.00 421.08 L165.03 421.09 L165.06 421.09 L165.08 421.09 L165.10 421.09 L165.12 421.09 L165.13 421.09 L165.14 421.10 L165.15 421.10 L165.16 421.10 L165.16 421.10 L165.17 421.10 L165.17 421.10 L165.18 421.10 L165.18 421.10 L165.18 421.10 L165.19 421.10 L165.19 421.10 L165.19 421.10 L165.19 421.10 L165.19 421.10 L165.19 421.10 L165.20 421.10 L165.20 421.10 L165.20 421.10 L165.20 421.10 L165.21 421.10 L165.21 421.10 L165.21 421.10 L165.21 421.10 L165.21 421.10 L165.21 421.10 L165.22 421.10 L165.22 421.10 L165.22 421.10 L165.23 421.10 L165.23 421.10 L165.24 421.10 L165.24 421.10 L165.25 421.10 L165.26 421.10 L165.27 421.09 L165.28 421.09 L165.30 421.09 L165.32 421.09 L165.34 421.09 L165.37 421.09 L165.40 421.08 L165.43 421.08 L165.48 421.08 L165.53 421.07 L165.59 421.07 L165.66 421.06 L165.75 421.06 L165.85 421.05 L165.97 421.04 L166.11 421.03 L166.28 421.01 L166.47 421.00 L166.71 420.98 L166.99 420.96 L167.32 420.93 L167.71 420.90 L168.17 420.86 L168.72 420.81 L169.37 420.76 L170.14 420.70 L171.05 420.63 L172.13 420.54 L173.41 420.43 L174.93 420.31 L176.72 420.17 L178.85 419.99 L181.37 419.79 L184.36 419.55 L187.90 419.26 L192.09 418.92 L197.05 418.52 L202.93 418.04 L209.90 417.48 L218.15 416.81 L227.93 416.02 L239.51 415.08 L253.23 413.97 L269.48 412.65" stroke="#ff7f0e"/>
<path d="M60.92 402.74 L77.17 404.79 L90.89 406.65 L102.47 408.34 L112.25 409.88 L120.50 411.27 L127.47 412.53 L133.35 413.67 L138.31 414.68 L142.50 415.58 L146.04 416.37 L149.03 417.06 L151.55 417.65 L153.68 418.16 L155.47 418.60 L156.99 418.98 L158.27 419.30 L159.35 419.57 L160.26 419.81 L161.03 420.00 L161.68 420.17 L162.23 420.31 L162.69 420.43 L163.08 420.53 L163.41 420.62 L163.69 420.69 L163.93 420.76 L164.12 420.81 L164.29 420.85 L164.43 420.89 L164.55 420.92 L164.65 420.95 L164.74 420.97 L164.81 420.99 L164.87 421.01 L164.92 421.02 L164.97 421.03 L165.00 421.04 L165.03 421.05 L165.06 421.06 L165.08 421.07 L165.10 421.07 L165.12 421.08 L165.13 421.08 L165.14 421.08 L165.15 421.08 L165.16 421.09 L165.16 421.09 L165.17 421.09 L165.17 421.09 L165.18 421.09 L165.18 421.09 L165.18 421.10 L165.19 421.10 L165.19 421.10 L165.19 421.10 L165.19 421.10 L165.19 421.10 L165.19 421.10 L165.20 421.10 L165.20 421.10 L165.20 421.10 L165.20 421.10 L165.21 421.10 L165.21 421.10 L165.21 421.10 L165.21 421.10 L165.21 421.10 L165.21 421.10 L165.22 421.10 L165.22 421.09 L165.22 421.09 L165.23 421.09 L165.23 421.09 L165.24 421.09 L165.24 421.09 L165.25 421.08 L165.26 421.08 L165.27 421.08 L165.28 421.08 L165.30 421.07 L165.32 421.07 L165.34 421.06 L165.37 421.05 L165.40 421.04 L165.43 421.03 L165.48 421.02 L165.53 421.01 L165.59 420.99 L165.66 420.97 L165.75 420.95 L165.85 420.92 L165.97 420.89 L166.11 420.85 L166.28 420.81 L166.47 420.76 L166.71 420.69 L166.99 420.62 L167.32 420.53 L167.71 420.43 L168.17 420.31 L168.72 420.17 L169.37 420.00 L170.14 419.81 L171.05 419.57 L172.13 419.30 L173.41 418.98 L174.93 418.60 L176.72 418.16 L178.85 417.65 L181.37 417.06 L184.36 416.37 L187.90 415.58 L192.09 414.68 L197.05 413.67 L202.93 412.53 L209.90 411.27 L218.15 409.88 L227.93 408.34 L239.51 406.65 L253.23 404.79 L269.48 402.74" stroke="#2ca02c"/>
<path d="M60.92 385.70 L77.17 387.95 L90.89 390.03 L102.47 391.95 L112.25 393.73 L120.50 395.39 L127.47 396.93 L133.35 398.36 L138.31 399.70 L142.50 400.95 L146.04 402.12 L149.03 403.22 L151.55 404.25 L153.68 405.21 L155.47 406.11 L156.99 406.96 L158.27 407.76 L159.35 408.51 L160.26 409.22 L161.03 409.89 L161.68 410.52 L162.23 411.11 L162.69 411.66 L163.08 412.19 L163.41 412.68 L163.69 413.15 L163.93 413.59 L164.12 414.01 L164.29 414.40 L164.43 414.77 L164.55 415.12 L164.65 415.45 L164.74 415.76 L164.81 416.06 L164.87 416.33 L164.92 416.60 L164.97 416.84 L165.00 417.08 L165.03 417.30 L165.06 417.51 L165.08 417.71 L165.10 417.89 L165.12 418.07 L165.13 418.24 L165.14 418.39 L165.15 418.54 L165.16 418.68 L165.16 418.82 L165.17 418.94 L165.17 419.06 L165.18 419.17 L165.18 419.28 L165.18 419.38 L165.19 419.47 L165.19 419.56 L165.19 419.65 L165.19 419.73 L165.19 419.80 L165.19 419.87 L165.20 419.94 L165.20 421.09 L165.20 421.09 L165.20 419.94 L165.21 419.87 L165.21 419.80 L165.21 419.73 L165.21 419.65 L165.21 419.56 L165.21 419.47 L165.22 419.38 L165.22 419.28 L165.22 419.17 L165.23 419.06 L165.23 418.94 L165.24 418.82 L165.24 418.68 L165.25 418.54 L165.26 418.39 L165.27 418.24 L165.28 418.07 L165.30 417.89 L165.32 417.71 L165.34 417.51 L165.37 417.30 L165.40 417.08 L165.43 416.84 L165.48 416.60 L165.53 416.33 L165.59 416.06 L165.66 415.76 L165.75 415.45 L165.85 415.12 L165.97 414.77 L166.11 414.40 L166.28 414.01 L166.47 413.59 L166.71 413.15 L166.99 412.68 L167.32 412.19 L167.71 411.66 L168.17 411.11 L168.72 410.52 L169.37 409.89 L170.14 409.22 L171.05 408.51 L172.13 407.76 L173.41 406.96 L174.93 406.11 L176.72 405.21 L178.85 404.25 L181.37 403.22 L184.36 402.12 L187.90 400.95 L192.09 399.70 L197.05 398.36 L202.93 396.93 L209.90 395.39 L218.15 393.73 L227.93 391.95 L239.51 390.03 L253.23 387.95 L269.48 385.70" stroke="#d62728"/>
<path d="M60.92 359.57 L77.17 360.92 L90.89 362.06 L102.47 363.02 L112.25 363.83 L120.50 364.52 L127.47 365.10 L133.35 365.58 L138.31 365.99 L142.50 366.34 L146.04 366.63 L149.03 366.88 L151.55 367.09 L153.68 367.26 L155.47 367.41 L156.99 367.54 L158.27 367.64 L159.35 367.73 L160.26 367.81 L161.03 367.87 L161.68 367.92 L162.23 367.97 L162.69 368.01 L163.08 368.04 L163.41 368.07 L163.69 368.09 L163.93 368.11 L164.12 368.13 L164.29 368.14 L164.43 368.15 L164.55 368.16 L164.65 368.17 L164.74 368.18 L164.81 368.18 L164.87 368.19 L164.92 368.19 L164.97 368.20 L165.00 368.20 L165.03 368.20 L165.06 368.20 L165.08 368.21 L165.10 368.21 L165.12 368.21 L165.13 368.21 L165.14 368.21 L165.15 368.21 L165.16 368.21 L165.16 368.21 L165.17 368.21 L165.17 368.21 L165.18 368.21 L165.18 368.21 L165.18 368.21 L165.19 368.21 L165.19 368.21 L165.19 368.21 L165.19 368.21 L165.19 368.21 L165.19 368.21 L165.20 368.21 L165.20 368.22 L165.20 368.22 L165.20 368.21 L165.21 368.21 L165.21 368.21 L165.21 368.21 L165.21 368.21 L165.21 368.21 L165.21 368.21 L165.22 368.21 L165.22 368.21 L165.22 368.21 L165.23 368.21 L165.23 368.21 L165.24 368.21 L165.24 368.21 L165.25 368.21 L165.26 368.21 L165.27 368.21 L165.28 368.21 L165.30 368.21 L165.32 368.21 L165.34 368.20 L165.37 368.20 L165.40 368.20 L165.43 368.20 L165.48 368.19 L165.53 368.19 L165.59 368.18 L165.66 368.18 L165.75 368.17 L165.85 368.16 L165.97 368.15 L166.11 368.14 L166.28 368.13 L166.47 368.11 L166.71 368.09 L166.99 368.07 L167.32 368.04 L167.71 368.01 L168.17 367.97 L168.72 367.92 L169.37 367.87 L170.14 367.81 L171.05 367.73 L172.13 367.64 L173.41 367.54 L174.93 367.41 L176.72 367.26 L178.85 367.09 L181.37 366.88 L184.36 366.63 L187.90 366.34 L192.09 365.99 L197.05 365.58 L202.93 365.10 L209.90 364.52 L218.15 363.83 L227.93 363.02 L239.51 362.06 L253.23 360.92 L269.48 359.57" stroke="#9467bd"/>
<path d="M60.92 338.20 L77.17 339.16 L90.89 339.97 L102.47 340.66 L112.25 341.23 L120.50 341.72 L127.47 342.13 L133.35 342.48 L138.31 342.77 L142.50 343.02 L146.04 343.22 L149.03 343.40 L151.55 343.55 L153.68 343.67 L155.47 343.78 L156.99 343.87 L158.27 343.94 L159.35 344.01 L160.26 344.06 L161.03 344.10 L161.68 344.14 L162.23 344.18 L162.69 344.20 L163.08 344.23 L163.41 344.24 L163.69 344.26 L163.93 344.27 L164.12 344.29 L164.29 344.30 L164.43 344.30 L164.55 344.31 L164.65 344.32 L164.74 344.32 L164.81 344.33 L164.87 344.33 L164.92 344.33 L164.97 344.34 L165.00 344.34 L165.03 344.34 L165.06 344.34 L165.08 344.34 L165.10 344.34 L165.12 344.34 L165.13 344.35 L165.14 344.35 L165.15 344.35 L165.16 344.35 L165.16 344.35 L165.17 344.35 L165.17 344.35 L165.18 344.35 L165.18 344.35 L165.18 344.35 L165.19 344.35 L165.19 344.35 L165.19 344.35 L165.19 344.35 L165.19 344.35 L165.19 344.35 L165.20 344.35 L165.20 344.35 L165.20 344.35 L165.20 344.35 L165.21 344.35 L165.21 344.35 L165.21 344.35 L165.21 344.35 L165.21 344.35 L165.21 344.35 L165.22 344.35 L165.22 344.35 L165.22 344.35 L165.23 344.35 L165.23 344.35 L165.24 344.35 L165.24 344.35 L165.25 344.35 L165.26 344.35 L165.27 344.35 L165.28 344.34 L165.30 344.34 L165.32 344.34 L165.34 344.34 L165.37 344.34 L165.40 344.34 L165.43 344.34 L165.48 344.33 L165.53 344.33 L165.59 344.33 L165.66 344.32 L165.75 344.32 L165.85 344.31 L165.97 344.30 L166.11 344.30 L166.28 344.29 L166.47 344.27 L166.71 344.26 L166.99 344.24 L167.32 344.23 L167.71 344.20 L168.17 344.18 L168.72 344.14 L169.37 344.10 L170.14 344.06 L171.05 344.01 L172.13 343.94 L173.41 343.87 L174.93 343.78 L176.72 343.67 L178.85 343.55 L181.37 343.40 L184.36 343.22 L187.90 343.02 L192.09 342.77 L197.05 342.48 L202.93 342.13 L209.90 341.72 L218.15 341.23 L227.93 340.66 L239.51 339.97 L253.23 339.16 L269.48 338.20" stroke="#8c564b"/>
</g>
<rect x="50.70" y="334.00" width="229.60" height="91.60" fill="none" stroke="#262626" stroke-width="1"/>
<line x1="70.40" y1="425.60" x2="70.40" y2="429.80" stroke="#262626" stroke-width="1"/>
<line x1="58.15" y1="440.44" x2="67.44" y2="440.44" stroke="#161616" stroke-width="0.95"/>
<text x="68.71" y="445.00" font-size="15.2" textLength="15.20" lengthAdjust="spacingAndGlyphs">10</text>
<line x1="165.20" y1="425.60" x2="165.20" y2="429.80" stroke="#262626" stroke-width="1"/>
<text x="161.40" y="445.00" font-size="15.2" textLength="7.60" lengthAdjust="spacingAndGlyphs">0</text>
<line x1="260.00" y1="425.60" x2="260.00" y2="429.80" stroke="#262626" stroke-width="1"/>
<text x="252.40" y="445.00" font-size="15.2" textLength="15.20" lengthAdjust="spacingAndGlyphs">10</text>
<line x1="46.50" y1="367.10" x2="50.70" y2="367.10" stroke="#262626" stroke-width="1"/>
<text x="34.80" y="372.90" font-size="15.2" textLength="7.60" lengthAdjust="spacingAndGlyphs">1</text>
<line x1="46.50" y1="421.10" x2="50.70" y2="421.10" stroke="#262626" stroke-width="1"/>
<text x="34.80" y="426.90" font-size="15.2" textLength="7.60" lengthAdjust="spacingAndGlyphs">0</text>
<text x="116.10" y="464.90" font-size="15.2" textLength="6.40" lengthAdjust="spacingAndGlyphs" font-style="italic">ϵ</text>
<line x1="122.80" y1="468.70" x2="129.10" y2="453.90" stroke="#161616" stroke-width="0.95"/>
<path d="M130.90 461.70 l1.5 -0.9 l3.6 7.9 l5.2 -14.6 h18.7" fill="none" stroke="#161616" stroke-width="0.9" stroke-linejoin="miter"/>
<path d="M132.50 460.90 l3.3 7.4" fill="none" stroke="#161616" stroke-width="1.6"/>
<text x="141.50" y="464.90" font-size="15.4" textLength="6.6" lengthAdjust="spacingAndGlyphs" font-style="italic">r</text>
<text x="148.90" y="466.80" font-size="11.6" textLength="10.3" lengthAdjust="spacingAndGlyphs" font-style="italic">N</text>
<text x="159.90" y="465.20" font-size="16.8">(</text>
<path d="M168.60 457.50 L175.80 464.70 M168.60 464.70 L175.80 457.50" stroke="#161616" stroke-width="0.95" fill="none"/>
<text x="178.10" y="464.90" font-size="15.2" textLength="15.7" lengthAdjust="spacingAndGlyphs">10</text>
<line x1="194.00" y1="456.30" x2="199.70" y2="456.30" stroke="#161616" stroke-width="0.85"/>
<text x="200.60" y="459.70" font-size="12.2" textLength="5.5" lengthAdjust="spacingAndGlyphs">4</text>
<text x="206.70" y="465.20" font-size="16.8">)</text>
<g transform="translate(26.30 380.10) rotate(-90)">
<text x="-32.00" y="0" font-size="15.5" textLength="10.4" lengthAdjust="spacingAndGlyphs" font-style="italic">E</text>
<text x="-21.80" y="0.30" font-size="16.8">(</text>
<path d="M-13.10 -7.40 L-5.90 -0.20 M-13.10 -0.20 L-5.90 -7.40" stroke="#161616" stroke-width="0.95" fill="none"/>
<text x="-3.60" y="0.00" font-size="15.2" textLength="15.7" lengthAdjust="spacingAndGlyphs">10</text>
<line x1="12.30" y1="-8.60" x2="18.00" y2="-8.60" stroke="#161616" stroke-width="0.85"/>
<text x="18.90" y="-5.20" font-size="12.2" textLength="5.5" lengthAdjust="spacingAndGlyphs">2</text>
<text x="25.00" y="0.30" font-size="16.8">)</text>
</g>
<text x="28.6" y="334.30" font-size="16.0">(c)</text>
<clipPath id="cpd"><rect x="340.70" y="11.30" width="343.80" height="414.30"/></clipPath>
<g clip-path="url(#cpd)" fill="none" stroke-width="1.70" stroke-linejoin="round">
<path d="M340.20 188.28 L340.22 188.28 L340.24 188.28 L340.26 188.29 L340.28 188.29 L340.31 188.29 L340.33 188.29 L340.36 188.29 L340.40 188.29 L340.66 188.29 L341.04 188.30 L341.53 188.31 L342.08 188.31 L342.68 188.32 L343.28 188.33 L343.87 188.34 L344.40 188.35 L344.90 188.35 L345.40 188.36 L345.90 188.36 L346.40 188.37 L346.90 188.37 L347.40 188.38 L347.90 188.38 L348.40 188.38 L348.90 188.39 L349.40 188.39 L349.90 188.39 L350.40 188.39 L350.90 188.39 L351.40 188.39 L351.90 188.40 L352.40 188.40 L352.90 188.40 L353.40 188.40 L353.90 188.40 L354.40 188.40 L354.90 188.39 L355.40 188.39 L355.90 188.39 L356.40 188.39 L356.90 188.39 L357.40 188.39 L357.90 188.38 L358.40 188.38 L358.90 188.38 L359.40 188.38 L359.90 188.37 L360.40 188.37 L360.90 188.37 L361.40 188.36 L361.90 188.36 L362.40 188.35 L362.90 188.35 L363.40 188.34 L363.90 188.34 L364.40 188.33 L364.90 188.33 L365.40 188.32 L365.90 188.32 L366.40 188.31 L366.90 188.31 L367.40 188.30 L367.90 188.29 L368.40 188.29 L368.90 188.28 L369.40 188.28 L369.90 188.27 L370.40 188.26 L370.90 188.25 L371.40 188.25 L371.90 188.24 L372.40 188.23 L372.90 188.23 L373.40 188.22 L373.90 188.21 L374.40 188.20 L374.90 188.20 L375.40 188.19 L375.90 188.18 L376.40 188.17 L376.90 188.17 L377.40 188.16 L377.90 188.15 L378.40 188.14 L378.90 188.13 L379.40 188.13 L379.90 188.12 L380.40 188.11 L380.90 188.10 L381.40 188.09 L381.90 188.09 L382.40 188.08 L382.90 188.07 L383.40 188.06 L383.90 188.05 L384.40 188.05 L384.90 188.04 L385.40 188.03 L385.90 188.02 L386.40 188.01 L386.90 188.01 L387.40 188.00 L387.90 187.99 L388.40 187.98 L388.90 187.98 L389.40 187.97 L389.90 187.96 L390.40 187.95 L390.90 187.95 L391.40 187.94 L391.90 187.93 L392.40 187.93 L392.90 187.92 L393.40 187.91 L393.90 187.91 L394.40 187.90 L394.90 187.89 L395.40 187.89 L395.90 187.88 L396.40 187.88 L396.90 187.87 L397.40 187.86 L397.90 187.86 L398.40 187.85 L398.90 187.85 L399.40 187.84 L399.90 187.84 L400.40 187.84 L400.90 187.83 L401.40 187.83 L401.90 187.82 L402.40 187.82 L402.90 187.82 L403.40 187.81 L403.90 187.81 L404.40 187.81 L404.90 187.81 L405.40 187.80 L405.90 187.80 L406.40 187.80 L406.90 187.80 L407.40 187.80 L407.90 187.80 L408.40 187.80 L408.90 187.79 L409.40 187.79 L409.90 187.79 L410.40 187.80 L410.90 187.80 L411.40 187.80 L411.90 187.80 L412.40 187.80 L412.90 187.80 L413.40 187.80 L413.90 187.81 L414.40 187.81 L414.90 187.81 L415.40 187.82 L415.90 187.82 L416.40 187.83 L416.90 187.83 L417.40 187.84 L417.90 187.84 L418.40 187.85 L418.90 187.85 L419.40 187.86 L419.90 187.87 L420.40 187.87 L420.90 187.88 L421.40 187.89 L421.90 187.90 L422.40 187.91 L422.90 187.92 L423.40 187.93 L423.90 187.94 L424.40 187.95 L424.90 187.96 L425.40 187.97 L425.90 187.98 L426.40 188.00 L426.90 188.01 L427.40 188.02 L427.90 188.04 L428.40 188.05 L428.90 188.07 L429.40 188.08 L429.90 188.10 L430.40 188.12 L430.90 188.13 L431.40 188.15 L431.90 188.17 L432.40 188.19 L432.90 188.21 L433.40 188.23 L433.90 188.25 L434.40 188.27 L434.90 188.30 L435.40 188.32 L435.90 188.34 L436.40 188.37 L436.90 188.39 L437.40 188.42 L437.90 188.45 L438.40 188.47 L438.90 188.50 L439.40 188.53 L439.90 188.56 L440.40 188.59 L440.90 188.62 L441.40 188.65 L441.90 188.69 L442.40 188.72 L442.90 188.76 L443.40 188.79 L443.90 188.83 L444.40 188.86 L444.90 188.90 L445.40 188.94 L445.90 188.98 L446.40 189.02 L446.90 189.06 L447.40 189.10 L447.90 189.14 L448.40 189.19 L448.90 189.23 L449.40 189.28 L449.90 189.32 L450.40 189.37 L450.90 189.42 L451.40 189.47 L451.90 189.52 L452.40 189.57 L452.90 189.62 L453.40 189.67 L453.90 189.73 L454.40 189.78 L454.90 189.83 L455.40 189.89 L455.90 189.95 L456.40 190.00 L456.90 190.06 L457.40 190.12 L457.90 190.18 L458.40 190.24 L458.90 190.30 L459.40 190.36 L459.90 190.42 L460.40 190.48 L460.90 190.54 L461.40 190.60 L461.90 190.67 L462.40 190.73 L462.90 190.79 L463.40 190.86 L463.90 190.92 L464.40 190.99 L464.90 191.05 L465.40 191.12 L465.90 191.19 L466.40 191.25 L466.90 191.32 L467.40 191.39 L467.90 191.46 L468.40 191.52 L468.90 191.59 L469.40 191.66 L469.90 191.73 L470.40 191.80 L470.90 191.87 L471.40 191.94 L471.90 192.01 L472.40 192.08 L472.90 192.14 L473.40 192.21 L473.90 192.28 L474.40 192.35 L474.90 192.42 L475.40 192.49 L475.90 192.56 L476.40 192.63 L476.90 192.70 L477.40 192.77 L477.90 192.84 L478.40 192.91 L478.90 192.98 L479.40 193.05 L479.90 193.12 L480.40 193.19 L480.90 193.26 L481.40 193.33 L481.90 193.39 L482.40 193.46 L482.90 193.53 L483.40 193.60 L483.90 193.67 L484.40 193.73 L484.90 193.80 L485.40 193.87 L485.90 193.93 L486.40 194.00 L486.90 194.07 L487.40 194.13 L487.90 194.20 L488.40 194.26 L488.90 194.32 L489.40 194.39 L489.90 194.45 L490.40 194.51 L490.90 194.58 L491.40 194.64 L491.90 194.70 L492.40 194.76 L492.90 194.82 L493.40 194.88 L493.90 194.94 L494.40 195.00 L494.90 195.06 L495.40 195.11 L495.90 195.17 L496.40 195.23 L496.90 195.28 L497.40 195.34 L497.90 195.39 L498.40 195.44 L498.90 195.49 L499.40 195.55 L499.90 195.60 L500.40 195.65 L500.90 195.70 L501.40 195.74 L501.90 195.79 L502.40 195.84 L502.90 195.88 L503.40 195.93 L503.90 195.97 L504.40 196.01 L504.90 196.05 L505.40 196.09 L505.90 196.13 L506.40 196.17 L506.90 196.20 L507.40 196.24 L507.90 196.27 L508.40 196.30 L508.90 196.33 L509.40 196.37 L509.90 196.40 L510.40 196.43 L510.90 196.46 L511.40 196.48 L511.90 196.50 L512.40 196.50 L512.90 196.50 L513.40 196.48 L513.90 196.46 L514.40 196.43 L514.90 196.40 L515.40 196.37 L515.90 196.33 L516.40 196.30 L516.90 196.27 L517.40 196.24 L517.90 196.20 L518.40 196.17 L518.90 196.13 L519.40 196.09 L519.90 196.05 L520.40 196.01 L520.90 195.97 L521.40 195.93 L521.90 195.88 L522.40 195.84 L522.90 195.79 L523.40 195.74 L523.90 195.70 L524.40 195.65 L524.90 195.60 L525.40 195.55 L525.90 195.49 L526.40 195.44 L526.90 195.39 L527.40 195.34 L527.90 195.28 L528.40 195.23 L528.90 195.17 L529.40 195.11 L529.90 195.06 L530.40 195.00 L530.90 194.94 L531.40 194.88 L531.90 194.82 L532.40 194.76 L532.90 194.70 L533.40 194.64 L533.90 194.58 L534.40 194.51 L534.90 194.45 L535.40 194.39 L535.90 194.32 L536.40 194.26 L536.90 194.20 L537.40 194.13 L537.90 194.07 L538.40 194.00 L538.90 193.93 L539.40 193.87 L539.90 193.80 L540.40 193.73 L540.90 193.67 L541.40 193.60 L541.90 193.53 L542.40 193.46 L542.90 193.39 L543.40 193.33 L543.90 193.26 L544.40 193.19 L544.90 193.12 L545.40 193.05 L545.90 192.98 L546.40 192.91 L546.90 192.84 L547.40 192.77 L547.90 192.70 L548.40 192.63 L548.90 192.56 L549.40 192.49 L549.90 192.42 L550.40 192.35 L550.90 192.28 L551.40 192.21 L551.90 192.14 L552.40 192.08 L552.90 192.01 L553.40 191.94 L553.90 191.87 L554.40 191.80 L554.90 191.73 L555.40 191.66 L555.90 191.59 L556.40 191.52 L556.90 191.46 L557.40 191.39 L557.90 191.32 L558.40 191.25 L558.90 191.19 L559.40 191.12 L559.90 191.05 L560.40 190.99 L560.90 190.92 L561.40 190.86 L561.90 190.79 L562.40 190.73 L562.90 190.67 L563.40 190.60 L563.90 190.54 L564.40 190.48 L564.90 190.42 L565.40 190.36 L565.90 190.30 L566.40 190.24 L566.90 190.18 L567.40 190.12 L567.90 190.06 L568.40 190.00 L568.90 189.95 L569.40 189.89 L569.90 189.83 L570.40 189.78 L570.90 189.73 L571.40 189.67 L571.90 189.62 L572.40 189.57 L572.90 189.52 L573.40 189.47 L573.90 189.42 L574.40 189.37 L574.90 189.32 L575.40 189.28 L575.90 189.23 L576.40 189.19 L576.90 189.14 L577.40 189.10 L577.90 189.06 L578.40 189.02 L578.90 188.98 L579.40 188.94 L579.90 188.90 L580.40 188.86 L580.90 188.83 L581.40 188.79 L581.90 188.76 L582.40 188.72 L582.90 188.69 L583.40 188.65 L583.90 188.62 L584.40 188.59 L584.90 188.56 L585.40 188.53 L585.90 188.50 L586.40 188.47 L586.90 188.45 L587.40 188.42 L587.90 188.39 L588.40 188.37 L588.90 188.34 L589.40 188.32 L589.90 188.30 L590.40 188.27 L590.90 188.25 L591.40 188.23 L591.90 188.21 L592.40 188.19 L592.90 188.17 L593.40 188.15 L593.90 188.13 L594.40 188.12 L594.90 188.10 L595.40 188.08 L595.90 188.07 L596.40 188.05 L596.90 188.04 L597.40 188.02 L597.90 188.01 L598.40 188.00 L598.90 187.98 L599.40 187.97 L599.90 187.96 L600.40 187.95 L600.90 187.94 L601.40 187.93 L601.90 187.92 L602.40 187.91 L602.90 187.90 L603.40 187.89 L603.90 187.88 L604.40 187.87 L604.90 187.87 L605.40 187.86 L605.90 187.85 L606.40 187.85 L606.90 187.84 L607.40 187.84 L607.90 187.83 L608.40 187.83 L608.90 187.82 L609.40 187.82 L609.90 187.81 L610.40 187.81 L610.90 187.81 L611.40 187.80 L611.90 187.80 L612.40 187.80 L612.90 187.80 L613.40 187.80 L613.90 187.80 L614.40 187.80 L614.90 187.79 L615.40 187.79 L615.90 187.79 L616.40 187.80 L616.90 187.80 L617.40 187.80 L617.90 187.80 L618.40 187.80 L618.90 187.80 L619.40 187.80 L619.90 187.81 L620.40 187.81 L620.90 187.81 L621.40 187.81 L621.90 187.82 L622.40 187.82 L622.90 187.82 L623.40 187.83 L623.90 187.83 L624.40 187.84 L624.90 187.84 L625.40 187.84 L625.90 187.85 L626.40 187.85 L626.90 187.86 L627.40 187.86 L627.90 187.87 L628.40 187.88 L628.90 187.88 L629.40 187.89 L629.90 187.89 L630.40 187.90 L630.90 187.91 L631.40 187.91 L631.90 187.92 L632.40 187.93 L632.90 187.93 L633.40 187.94 L633.90 187.95 L634.40 187.95 L634.90 187.96 L635.40 187.97 L635.90 187.98 L636.40 187.98 L636.90 187.99 L637.40 188.00 L637.90 188.01 L638.40 188.01 L638.90 188.02 L639.40 188.03 L639.90 188.04 L640.40 188.05 L640.90 188.05 L641.40 188.06 L641.90 188.07 L642.40 188.08 L642.90 188.09 L643.40 188.09 L643.90 188.10 L644.40 188.11 L644.90 188.12 L645.40 188.13 L645.90 188.13 L646.40 188.14 L646.90 188.15 L647.40 188.16 L647.90 188.17 L648.40 188.17 L648.90 188.18 L649.40 188.19 L649.90 188.20 L650.40 188.20 L650.90 188.21 L651.40 188.22 L651.90 188.23 L652.40 188.23 L652.90 188.24 L653.40 188.25 L653.90 188.25 L654.40 188.26 L654.90 188.27 L655.40 188.28 L655.90 188.28 L656.40 188.29 L656.90 188.29 L657.40 188.30 L657.90 188.31 L658.40 188.31 L658.90 188.32 L659.40 188.32 L659.90 188.33 L660.40 188.33 L660.90 188.34 L661.40 188.34 L661.90 188.35 L662.40 188.35 L662.90 188.36 L663.40 188.36 L663.90 188.37 L664.40 188.37 L664.90 188.37 L665.40 188.38 L665.90 188.38 L666.40 188.38 L666.90 188.38 L667.40 188.39 L667.90 188.39 L668.40 188.39 L668.90 188.39 L669.40 188.39 L669.90 188.39 L670.40 188.40 L670.90 188.40 L671.40 188.40 L671.90 188.40 L672.40 188.40 L672.90 188.40 L673.40 188.39 L673.90 188.39 L674.40 188.39 L674.90 188.39 L675.40 188.39 L675.90 188.39 L676.40 188.38 L676.90 188.38 L677.40 188.38 L677.90 188.37 L678.40 188.37 L678.90 188.36 L679.40 188.36 L679.90 188.35 L680.40 188.35 L680.93 188.34 L681.52 188.33 L682.12 188.32 L682.72 188.31 L683.27 188.31 L683.76 188.30 L684.14 188.29 L684.40 188.29 L684.44 188.29 L684.47 188.29 L684.49 188.29 L684.52 188.29 L684.54 188.29 L684.56 188.28 L684.58 188.28 L684.60 188.28" stroke="#1f77b4"/>
<path d="M340.20 184.97 L340.60 184.97 L340.99 184.98 L341.38 184.98 L341.78 184.99 L342.17 184.99 L342.57 185.00 L342.98 185.00 L343.40 185.00 L343.88 185.01 L344.37 185.01 L344.87 185.01 L345.37 185.01 L345.88 185.01 L346.39 185.01 L346.90 185.01 L347.40 185.01 L347.90 185.01 L348.40 185.01 L348.90 185.01 L349.40 185.00 L349.90 185.00 L350.40 184.99 L350.90 184.99 L351.40 184.99 L351.90 184.98 L352.40 184.97 L352.90 184.97 L353.40 184.96 L353.90 184.95 L354.40 184.95 L354.90 184.94 L355.40 184.93 L355.90 184.92 L356.40 184.91 L356.90 184.90 L357.40 184.89 L357.90 184.88 L358.40 184.87 L358.90 184.86 L359.40 184.85 L359.90 184.84 L360.40 184.83 L360.90 184.81 L361.40 184.80 L361.90 184.79 L362.40 184.78 L362.90 184.76 L363.40 184.75 L363.90 184.74 L364.40 184.73 L364.90 184.71 L365.40 184.70 L365.90 184.68 L366.40 184.67 L366.90 184.66 L367.40 184.64 L367.90 184.63 L368.40 184.61 L368.90 184.60 L369.40 184.58 L369.90 184.57 L370.40 184.55 L370.90 184.54 L371.40 184.53 L371.90 184.51 L372.40 184.50 L372.90 184.48 L373.40 184.47 L373.90 184.45 L374.40 184.44 L374.90 184.42 L375.40 184.41 L375.90 184.39 L376.40 184.38 L376.90 184.36 L377.40 184.35 L377.90 184.34 L378.40 184.32 L378.90 184.31 L379.40 184.30 L379.90 184.28 L380.40 184.27 L380.90 184.26 L381.40 184.24 L381.90 184.23 L382.40 184.22 L382.90 184.21 L383.40 184.19 L383.90 184.18 L384.40 184.17 L384.90 184.16 L385.40 184.15 L385.90 184.14 L386.40 184.13 L386.90 184.12 L387.40 184.11 L387.90 184.10 L388.40 184.09 L388.90 184.08 L389.40 184.07 L389.90 184.07 L390.40 184.06 L390.90 184.05 L391.40 184.05 L391.90 184.04 L392.40 184.03 L392.90 184.03 L393.40 184.02 L393.90 184.02 L394.40 184.02 L394.90 184.01 L395.40 184.01 L395.90 184.01 L396.40 184.01 L396.90 184.01 L397.40 184.01 L397.90 184.01 L398.40 184.01 L398.90 184.01 L399.40 184.01 L399.90 184.01 L400.40 184.02 L400.90 184.02 L401.40 184.02 L401.90 184.03 L402.40 184.03 L402.90 184.04 L403.40 184.05 L403.90 184.06 L404.40 184.06 L404.90 184.07 L405.40 184.08 L405.90 184.09 L406.40 184.11 L406.90 184.12 L407.40 184.13 L407.90 184.15 L408.40 184.16 L408.90 184.18 L409.40 184.19 L409.90 184.21 L410.40 184.23 L410.90 184.25 L411.40 184.27 L411.90 184.29 L412.40 184.31 L412.90 184.33 L413.40 184.36 L413.90 184.38 L414.40 184.40 L414.90 184.43 L415.40 184.46 L415.90 184.49 L416.40 184.52 L416.90 184.55 L417.40 184.58 L417.90 184.61 L418.40 184.64 L418.90 184.68 L419.40 184.71 L419.90 184.75 L420.40 184.79 L420.90 184.83 L421.40 184.87 L421.90 184.91 L422.40 184.95 L422.90 184.99 L423.40 185.04 L423.90 185.08 L424.40 185.13 L424.90 185.18 L425.40 185.22 L425.90 185.27 L426.40 185.33 L426.90 185.38 L427.40 185.43 L427.90 185.49 L428.40 185.54 L428.90 185.60 L429.40 185.66 L429.90 185.72 L430.40 185.78 L430.90 185.85 L431.40 185.91 L431.90 185.98 L432.40 186.04 L432.90 186.11 L433.40 186.18 L433.90 186.25 L434.40 186.32 L434.90 186.40 L435.40 186.47 L435.90 186.55 L436.40 186.63 L436.90 186.71 L437.40 186.79 L437.90 186.87 L438.40 186.95 L438.90 187.04 L439.40 187.13 L439.90 187.22 L440.40 187.31 L440.90 187.40 L441.40 187.49 L441.90 187.58 L442.40 187.68 L442.90 187.78 L443.40 187.88 L443.90 187.98 L444.40 188.08 L444.90 188.19 L445.40 188.29 L445.90 188.40 L446.40 188.51 L446.90 188.62 L447.40 188.73 L447.90 188.85 L448.40 188.96 L448.90 189.08 L449.40 189.19 L449.90 189.31 L450.40 189.44 L450.90 189.57 L451.40 189.70 L451.90 189.84 L452.40 189.98 L452.91 190.12 L453.41 190.27 L453.91 190.43 L454.41 190.59 L454.90 190.76 L455.40 190.93 L455.90 191.13 L456.41 191.33 L456.91 191.54 L457.41 191.75 L457.91 191.98 L458.41 192.21 L458.91 192.45 L459.40 192.70 L459.91 192.96 L460.41 193.23 L460.91 193.51 L461.41 193.80 L461.91 194.10 L462.41 194.40 L462.90 194.70 L463.40 195.00 L463.90 195.30 L464.40 195.62 L464.90 195.93 L465.40 196.25 L465.90 196.57 L466.40 196.89 L466.90 197.20 L467.40 197.51 L467.90 197.82 L468.40 198.12 L468.90 198.42 L469.39 198.72 L469.89 199.02 L470.40 199.32 L470.90 199.61 L471.40 199.89 L471.90 200.17 L472.40 200.44 L472.90 200.71 L473.40 200.97 L473.90 201.23 L474.40 201.49 L474.90 201.76 L475.40 202.03 L475.90 202.31 L476.40 202.59 L476.91 202.86 L477.41 203.15 L477.91 203.43 L478.41 203.72 L478.90 204.02 L479.40 204.32 L479.90 204.64 L480.40 204.96 L480.90 205.29 L481.39 205.62 L481.89 205.96 L482.38 206.31 L482.89 206.67 L483.40 207.05 L483.98 207.48 L484.58 207.93 L485.18 208.39 L485.78 208.87 L486.39 209.35 L486.99 209.84 L487.60 210.32 L488.20 210.80 L488.80 211.28 L489.40 211.77 L490.00 212.26 L490.60 212.75 L491.20 213.24 L491.80 213.73 L492.40 214.22 L493.00 214.70 L493.60 215.18 L494.20 215.67 L494.79 216.15 L495.39 216.63 L495.99 217.11 L496.59 217.58 L497.19 218.05 L497.80 218.50 L498.39 218.94 L498.99 219.38 L499.58 219.82 L500.17 220.25 L500.77 220.67 L501.38 221.07 L501.99 221.45 L502.60 221.80 L503.19 222.11 L503.78 222.41 L504.37 222.69 L504.97 222.96 L505.57 223.20 L506.17 223.42 L506.78 223.62 L507.40 223.80 L508.01 223.95 L508.63 224.07 L509.25 224.18 L509.88 224.26 L510.51 224.32 L511.14 224.37 L511.77 224.39 L512.40 224.40 L513.03 224.39 L513.66 224.37 L514.29 224.32 L514.92 224.26 L515.55 224.18 L516.17 224.07 L516.79 223.95 L517.40 223.80 L518.02 223.62 L518.63 223.42 L519.23 223.20 L519.83 222.96 L520.43 222.69 L521.02 222.41 L521.61 222.11 L522.20 221.80 L522.81 221.45 L523.42 221.07 L524.03 220.67 L524.63 220.25 L525.22 219.82 L525.81 219.38 L526.41 218.94 L527.00 218.50 L527.61 218.05 L528.21 217.58 L528.81 217.11 L529.41 216.63 L530.01 216.15 L530.60 215.67 L531.20 215.18 L531.80 214.70 L532.40 214.22 L533.00 213.73 L533.60 213.24 L534.20 212.75 L534.80 212.26 L535.40 211.77 L536.00 211.28 L536.60 210.80 L537.20 210.32 L537.81 209.84 L538.41 209.35 L539.02 208.87 L539.62 208.39 L540.22 207.93 L540.82 207.48 L541.40 207.05 L541.91 206.67 L542.42 206.31 L542.91 205.96 L543.41 205.62 L543.90 205.29 L544.40 204.96 L544.90 204.64 L545.40 204.32 L545.90 204.02 L546.39 203.72 L546.89 203.43 L547.39 203.15 L547.89 202.86 L548.40 202.59 L548.90 202.31 L549.40 202.03 L549.90 201.76 L550.40 201.49 L550.90 201.23 L551.40 200.97 L551.90 200.71 L552.40 200.44 L552.90 200.17 L553.40 199.89 L553.90 199.61 L554.40 199.32 L554.91 199.02 L555.41 198.72 L555.90 198.42 L556.40 198.12 L556.90 197.82 L557.40 197.51 L557.90 197.20 L558.40 196.89 L558.90 196.57 L559.40 196.25 L559.90 195.93 L560.40 195.62 L560.90 195.30 L561.40 195.00 L561.90 194.70 L562.39 194.40 L562.89 194.10 L563.39 193.80 L563.89 193.51 L564.39 193.23 L564.89 192.96 L565.40 192.70 L565.89 192.45 L566.39 192.21 L566.89 191.98 L567.39 191.75 L567.89 191.54 L568.39 191.33 L568.90 191.13 L569.40 190.93 L569.90 190.76 L570.39 190.59 L570.89 190.43 L571.39 190.27 L571.89 190.12 L572.40 189.98 L572.90 189.84 L573.40 189.70 L573.90 189.57 L574.40 189.44 L574.90 189.31 L575.40 189.19 L575.90 189.08 L576.40 188.96 L576.90 188.85 L577.40 188.73 L577.90 188.62 L578.40 188.51 L578.90 188.40 L579.40 188.29 L579.90 188.19 L580.40 188.08 L580.90 187.98 L581.40 187.88 L581.90 187.78 L582.40 187.68 L582.90 187.58 L583.40 187.49 L583.90 187.40 L584.40 187.31 L584.90 187.22 L585.40 187.13 L585.90 187.04 L586.40 186.95 L586.90 186.87 L587.40 186.79 L587.90 186.71 L588.40 186.63 L588.90 186.55 L589.40 186.47 L589.90 186.40 L590.40 186.32 L590.90 186.25 L591.40 186.18 L591.90 186.11 L592.40 186.04 L592.90 185.98 L593.40 185.91 L593.90 185.85 L594.40 185.78 L594.90 185.72 L595.40 185.66 L595.90 185.60 L596.40 185.54 L596.90 185.49 L597.40 185.43 L597.90 185.38 L598.40 185.33 L598.90 185.27 L599.40 185.22 L599.90 185.18 L600.40 185.13 L600.90 185.08 L601.40 185.04 L601.90 184.99 L602.40 184.95 L602.90 184.91 L603.40 184.87 L603.90 184.83 L604.40 184.79 L604.90 184.75 L605.40 184.71 L605.90 184.68 L606.40 184.64 L606.90 184.61 L607.40 184.58 L607.90 184.55 L608.40 184.52 L608.90 184.49 L609.40 184.46 L609.90 184.43 L610.40 184.40 L610.90 184.38 L611.40 184.36 L611.90 184.33 L612.40 184.31 L612.90 184.29 L613.40 184.27 L613.90 184.25 L614.40 184.23 L614.90 184.21 L615.40 184.19 L615.90 184.18 L616.40 184.16 L616.90 184.15 L617.40 184.13 L617.90 184.12 L618.40 184.11 L618.90 184.09 L619.40 184.08 L619.90 184.07 L620.40 184.06 L620.90 184.06 L621.40 184.05 L621.90 184.04 L622.40 184.03 L622.90 184.03 L623.40 184.02 L623.90 184.02 L624.40 184.02 L624.90 184.01 L625.40 184.01 L625.90 184.01 L626.40 184.01 L626.90 184.01 L627.40 184.01 L627.90 184.01 L628.40 184.01 L628.90 184.01 L629.40 184.01 L629.90 184.01 L630.40 184.02 L630.90 184.02 L631.40 184.02 L631.90 184.03 L632.40 184.03 L632.90 184.04 L633.40 184.05 L633.90 184.05 L634.40 184.06 L634.90 184.07 L635.40 184.07 L635.90 184.08 L636.40 184.09 L636.90 184.10 L637.40 184.11 L637.90 184.12 L638.40 184.13 L638.90 184.14 L639.40 184.15 L639.90 184.16 L640.40 184.17 L640.90 184.18 L641.40 184.19 L641.90 184.21 L642.40 184.22 L642.90 184.23 L643.40 184.24 L643.90 184.26 L644.40 184.27 L644.90 184.28 L645.40 184.30 L645.90 184.31 L646.40 184.32 L646.90 184.34 L647.40 184.35 L647.90 184.36 L648.40 184.38 L648.90 184.39 L649.40 184.41 L649.90 184.42 L650.40 184.44 L650.90 184.45 L651.40 184.47 L651.90 184.48 L652.40 184.50 L652.90 184.51 L653.40 184.53 L653.90 184.54 L654.40 184.55 L654.90 184.57 L655.40 184.58 L655.90 184.60 L656.40 184.61 L656.90 184.63 L657.40 184.64 L657.90 184.66 L658.40 184.67 L658.90 184.68 L659.40 184.70 L659.90 184.71 L660.40 184.73 L660.90 184.74 L661.40 184.75 L661.90 184.76 L662.40 184.78 L662.90 184.79 L663.40 184.80 L663.90 184.81 L664.40 184.83 L664.90 184.84 L665.40 184.85 L665.90 184.86 L666.40 184.87 L666.90 184.88 L667.40 184.89 L667.90 184.90 L668.40 184.91 L668.90 184.92 L669.40 184.93 L669.90 184.94 L670.40 184.95 L670.90 184.95 L671.40 184.96 L671.90 184.97 L672.40 184.97 L672.90 184.98 L673.40 184.99 L673.90 184.99 L674.40 184.99 L674.90 185.00 L675.40 185.00 L675.90 185.01 L676.40 185.01 L676.90 185.01 L677.40 185.01 L677.90 185.01 L678.41 185.01 L678.92 185.01 L679.43 185.01 L679.93 185.01 L680.43 185.01 L680.92 185.01 L681.40 185.00 L681.82 185.00 L682.23 185.00 L682.63 184.99 L683.02 184.99 L683.42 184.98 L683.81 184.98 L684.20 184.97 L684.60 184.97" stroke="#ff7f0e"/>
<path d="M340.20 179.69 L340.36 179.69 L340.51 179.68 L340.66 179.68 L340.81 179.68 L340.96 179.67 L341.12 179.67 L341.30 179.66 L341.50 179.65 L341.90 179.64 L342.35 179.62 L342.84 179.60 L343.36 179.58 L343.90 179.56 L344.45 179.54 L344.99 179.51 L345.50 179.49 L346.00 179.47 L346.50 179.44 L347.00 179.42 L347.50 179.39 L348.00 179.36 L348.50 179.34 L349.00 179.31 L349.50 179.28 L350.00 179.25 L350.50 179.22 L351.00 179.19 L351.50 179.16 L352.00 179.13 L352.50 179.09 L353.00 179.06 L353.50 179.03 L354.00 178.99 L354.50 178.96 L355.00 178.92 L355.50 178.89 L356.00 178.85 L356.50 178.81 L357.00 178.78 L357.50 178.74 L358.00 178.70 L358.50 178.66 L359.00 178.62 L359.50 178.59 L360.00 178.55 L360.50 178.51 L361.00 178.47 L361.50 178.43 L362.00 178.38 L362.50 178.34 L363.00 178.30 L363.50 178.26 L364.00 178.22 L364.50 178.18 L365.00 178.13 L365.50 178.09 L366.00 178.05 L366.50 178.00 L367.00 177.96 L367.50 177.92 L368.00 177.87 L368.50 177.83 L369.00 177.78 L369.50 177.74 L370.00 177.70 L370.50 177.65 L371.00 177.61 L371.50 177.56 L372.00 177.52 L372.50 177.47 L373.00 177.43 L373.50 177.38 L374.00 177.34 L374.50 177.29 L375.00 177.25 L375.50 177.20 L376.00 177.16 L376.50 177.11 L377.00 177.07 L377.50 177.02 L378.00 176.98 L378.50 176.94 L379.00 176.89 L379.50 176.85 L380.00 176.80 L380.50 176.76 L381.00 176.72 L381.50 176.67 L382.00 176.63 L382.50 176.59 L383.00 176.54 L383.50 176.50 L384.00 176.46 L384.50 176.42 L385.00 176.37 L385.50 176.33 L386.00 176.29 L386.50 176.25 L387.00 176.21 L387.50 176.17 L388.00 176.13 L388.50 176.09 L389.00 176.05 L389.50 176.01 L390.00 175.97 L390.50 175.94 L391.00 175.90 L391.50 175.86 L392.00 175.83 L392.50 175.79 L393.00 175.75 L393.50 175.72 L394.00 175.68 L394.50 175.65 L395.00 175.62 L395.50 175.58 L396.00 175.55 L396.50 175.52 L397.00 175.49 L397.50 175.46 L398.00 175.43 L398.50 175.40 L399.00 175.37 L399.50 175.34 L400.00 175.32 L400.50 175.29 L401.00 175.26 L401.50 175.24 L402.00 175.21 L402.50 175.19 L403.00 175.17 L403.50 175.14 L404.00 175.12 L404.50 175.10 L405.00 175.08 L405.50 175.06 L406.00 175.05 L406.50 175.03 L407.00 175.01 L407.50 175.00 L408.00 174.98 L408.50 174.97 L409.00 174.95 L409.50 174.94 L410.00 174.93 L410.50 174.92 L411.00 174.91 L411.50 174.90 L412.00 174.90 L412.50 174.89 L413.00 174.89 L413.50 174.88 L414.00 174.88 L414.50 174.88 L415.00 174.88 L415.50 174.88 L416.00 174.88 L416.50 174.88 L417.00 174.88 L417.50 174.89 L418.00 174.89 L418.50 174.90 L419.00 174.91 L419.50 174.92 L420.00 174.93 L420.50 174.94 L421.00 174.95 L421.50 174.97 L422.00 174.98 L422.50 175.00 L423.00 175.02 L423.50 175.04 L424.00 175.06 L424.50 175.08 L425.00 175.11 L425.50 175.13 L426.00 175.16 L426.50 175.18 L427.00 175.21 L427.50 175.24 L428.00 175.27 L428.50 175.31 L429.00 175.34 L429.50 175.38 L430.00 175.42 L430.50 175.45 L431.00 175.49 L431.50 175.53 L432.00 175.58 L432.50 175.62 L433.00 175.67 L433.50 175.72 L434.00 175.77 L434.50 175.83 L435.00 175.88 L435.50 175.94 L436.00 176.00 L436.50 176.07 L437.00 176.14 L437.50 176.21 L438.00 176.30 L438.50 176.38 L439.00 176.47 L439.50 176.56 L440.00 176.66 L440.50 176.77 L441.00 176.88 L441.50 177.00 L442.00 177.13 L442.51 177.27 L443.01 177.41 L443.51 177.56 L444.01 177.71 L444.51 177.88 L445.00 178.05 L445.50 178.23 L446.01 178.43 L446.51 178.63 L447.01 178.84 L447.52 179.06 L448.01 179.29 L448.51 179.53 L449.01 179.78 L449.50 180.04 L450.01 180.32 L450.51 180.61 L451.01 180.90 L451.51 181.21 L452.01 181.53 L452.51 181.86 L453.00 182.20 L453.50 182.56 L454.04 182.97 L454.59 183.39 L455.13 183.83 L455.67 184.28 L456.21 184.74 L456.75 185.22 L457.28 185.70 L457.80 186.20 L458.35 186.74 L458.91 187.32 L459.47 187.91 L460.01 188.51 L460.55 189.11 L461.06 189.70 L461.55 190.26 L462.00 190.80 L462.32 191.19 L462.61 191.56 L462.89 191.92 L463.16 192.27 L463.42 192.62 L463.68 192.98 L463.94 193.33 L464.20 193.70 L464.47 194.08 L464.74 194.46 L465.00 194.85 L465.26 195.23 L465.52 195.62 L465.78 196.01 L466.04 196.41 L466.30 196.80 L466.56 197.21 L466.83 197.62 L467.09 198.03 L467.35 198.44 L467.61 198.86 L467.88 199.27 L468.14 199.69 L468.40 200.10 L468.66 200.51 L468.92 200.93 L469.19 201.35 L469.45 201.77 L469.71 202.18 L469.97 202.59 L470.24 203.00 L470.50 203.40 L470.75 203.76 L470.99 204.10 L471.24 204.44 L471.49 204.77 L471.74 205.11 L471.99 205.47 L472.24 205.87 L472.50 206.30 L472.91 207.04 L473.32 207.86 L473.75 208.74 L474.19 209.67 L474.63 210.64 L475.06 211.63 L475.49 212.62 L475.90 213.60 L476.34 214.67 L476.78 215.76 L477.21 216.87 L477.63 217.99 L478.05 219.13 L478.47 220.28 L478.89 221.44 L479.30 222.60 L479.74 223.84 L480.17 225.08 L480.60 226.34 L481.03 227.60 L481.45 228.88 L481.87 230.17 L482.29 231.48 L482.70 232.80 L483.14 234.24 L483.57 235.70 L483.99 237.19 L484.42 238.68 L484.84 240.19 L485.26 241.69 L485.68 243.20 L486.10 244.70 L486.53 246.20 L486.95 247.71 L487.37 249.21 L487.79 250.71 L488.22 252.22 L488.64 253.74 L489.07 255.26 L489.50 256.80 L489.96 258.43 L490.43 260.09 L490.91 261.77 L491.39 263.45 L491.86 265.13 L492.32 266.79 L492.77 268.41 L493.20 270.00 L493.56 271.37 L493.89 272.69 L494.20 273.99 L494.51 275.28 L494.82 276.57 L495.15 277.87 L495.51 279.21 L495.90 280.60 L496.42 282.32 L496.98 284.13 L497.58 285.98 L498.20 287.86 L498.84 289.74 L499.47 291.57 L500.10 293.33 L500.70 295.00 L501.18 296.30 L501.64 297.57 L502.10 298.81 L502.56 300.02 L503.03 301.19 L503.50 302.33 L503.99 303.43 L504.50 304.50 L504.94 305.41 L505.38 306.31 L505.82 307.21 L506.27 308.08 L506.73 308.90 L507.22 309.65 L507.74 310.32 L508.30 310.90 L508.76 311.29 L509.25 311.65 L509.76 311.98 L510.29 312.26 L510.82 312.48 L511.35 312.66 L511.88 312.76 L512.40 312.80 L512.92 312.76 L513.45 312.66 L513.98 312.48 L514.51 312.26 L515.04 311.98 L515.55 311.65 L516.04 311.29 L516.50 310.90 L517.06 310.32 L517.58 309.65 L518.07 308.90 L518.53 308.08 L518.98 307.21 L519.42 306.31 L519.86 305.41 L520.30 304.50 L520.81 303.43 L521.30 302.33 L521.77 301.19 L522.24 300.02 L522.70 298.81 L523.16 297.57 L523.62 296.30 L524.10 295.00 L524.70 293.33 L525.33 291.57 L525.96 289.74 L526.60 287.86 L527.22 285.98 L527.82 284.13 L528.38 282.32 L528.90 280.60 L529.29 279.21 L529.65 277.87 L529.98 276.57 L530.29 275.28 L530.60 273.99 L530.91 272.69 L531.24 271.37 L531.60 270.00 L532.03 268.41 L532.48 266.79 L532.94 265.13 L533.41 263.45 L533.89 261.77 L534.37 260.09 L534.84 258.43 L535.30 256.80 L535.73 255.26 L536.16 253.74 L536.58 252.22 L537.01 250.71 L537.43 249.21 L537.85 247.71 L538.27 246.20 L538.70 244.70 L539.12 243.20 L539.54 241.69 L539.96 240.19 L540.38 238.68 L540.81 237.19 L541.23 235.70 L541.66 234.24 L542.10 232.80 L542.51 231.48 L542.93 230.17 L543.35 228.88 L543.77 227.60 L544.20 226.34 L544.63 225.08 L545.06 223.84 L545.50 222.60 L545.91 221.44 L546.33 220.28 L546.75 219.13 L547.17 217.99 L547.59 216.87 L548.02 215.76 L548.46 214.67 L548.90 213.60 L549.31 212.62 L549.74 211.63 L550.17 210.64 L550.61 209.67 L551.05 208.74 L551.48 207.86 L551.89 207.04 L552.30 206.30 L552.56 205.87 L552.81 205.47 L553.06 205.11 L553.31 204.77 L553.56 204.44 L553.81 204.10 L554.05 203.76 L554.30 203.40 L554.56 203.00 L554.83 202.59 L555.09 202.18 L555.35 201.77 L555.61 201.35 L555.88 200.93 L556.14 200.51 L556.40 200.10 L556.66 199.69 L556.92 199.27 L557.19 198.86 L557.45 198.44 L557.71 198.03 L557.97 197.62 L558.24 197.21 L558.50 196.80 L558.76 196.41 L559.02 196.01 L559.28 195.62 L559.54 195.23 L559.80 194.85 L560.06 194.46 L560.33 194.08 L560.60 193.70 L560.86 193.33 L561.12 192.98 L561.38 192.62 L561.64 192.27 L561.91 191.92 L562.19 191.56 L562.48 191.19 L562.80 190.80 L563.25 190.26 L563.74 189.70 L564.25 189.11 L564.79 188.51 L565.33 187.91 L565.89 187.32 L566.45 186.74 L567.00 186.20 L567.52 185.70 L568.05 185.22 L568.59 184.74 L569.13 184.28 L569.67 183.83 L570.21 183.39 L570.76 182.97 L571.30 182.56 L571.80 182.20 L572.29 181.86 L572.79 181.53 L573.29 181.21 L573.79 180.90 L574.29 180.61 L574.79 180.32 L575.30 180.04 L575.79 179.78 L576.29 179.53 L576.79 179.29 L577.28 179.06 L577.79 178.84 L578.29 178.63 L578.79 178.43 L579.30 178.23 L579.80 178.05 L580.29 177.88 L580.79 177.71 L581.29 177.56 L581.79 177.41 L582.29 177.27 L582.80 177.13 L583.30 177.00 L583.80 176.88 L584.30 176.77 L584.80 176.66 L585.30 176.56 L585.80 176.47 L586.30 176.38 L586.80 176.30 L587.30 176.21 L587.80 176.14 L588.30 176.07 L588.80 176.00 L589.30 175.94 L589.80 175.88 L590.30 175.83 L590.80 175.77 L591.30 175.72 L591.80 175.67 L592.30 175.62 L592.80 175.58 L593.30 175.53 L593.80 175.49 L594.30 175.45 L594.80 175.42 L595.30 175.38 L595.80 175.34 L596.30 175.31 L596.80 175.27 L597.30 175.24 L597.80 175.21 L598.30 175.18 L598.80 175.16 L599.30 175.13 L599.80 175.11 L600.30 175.08 L600.80 175.06 L601.30 175.04 L601.80 175.02 L602.30 175.00 L602.80 174.98 L603.30 174.97 L603.80 174.95 L604.30 174.94 L604.80 174.93 L605.30 174.92 L605.80 174.91 L606.30 174.90 L606.80 174.89 L607.30 174.89 L607.80 174.88 L608.30 174.88 L608.80 174.88 L609.30 174.88 L609.80 174.88 L610.30 174.88 L610.80 174.88 L611.30 174.88 L611.80 174.89 L612.30 174.89 L612.80 174.90 L613.30 174.90 L613.80 174.91 L614.30 174.92 L614.80 174.93 L615.30 174.94 L615.80 174.95 L616.30 174.97 L616.80 174.98 L617.30 175.00 L617.80 175.01 L618.30 175.03 L618.80 175.05 L619.30 175.06 L619.80 175.08 L620.30 175.10 L620.80 175.12 L621.30 175.14 L621.80 175.17 L622.30 175.19 L622.80 175.21 L623.30 175.24 L623.80 175.26 L624.30 175.29 L624.80 175.32 L625.30 175.34 L625.80 175.37 L626.30 175.40 L626.80 175.43 L627.30 175.46 L627.80 175.49 L628.30 175.52 L628.80 175.55 L629.30 175.58 L629.80 175.62 L630.30 175.65 L630.80 175.68 L631.30 175.72 L631.80 175.75 L632.30 175.79 L632.80 175.83 L633.30 175.86 L633.80 175.90 L634.30 175.94 L634.80 175.97 L635.30 176.01 L635.80 176.05 L636.30 176.09 L636.80 176.13 L637.30 176.17 L637.80 176.21 L638.30 176.25 L638.80 176.29 L639.30 176.33 L639.80 176.37 L640.30 176.42 L640.80 176.46 L641.30 176.50 L641.80 176.54 L642.30 176.59 L642.80 176.63 L643.30 176.67 L643.80 176.72 L644.30 176.76 L644.80 176.80 L645.30 176.85 L645.80 176.89 L646.30 176.94 L646.80 176.98 L647.30 177.02 L647.80 177.07 L648.30 177.11 L648.80 177.16 L649.30 177.20 L649.80 177.25 L650.30 177.29 L650.80 177.34 L651.30 177.38 L651.80 177.43 L652.30 177.47 L652.80 177.52 L653.30 177.56 L653.80 177.61 L654.30 177.65 L654.80 177.70 L655.30 177.74 L655.80 177.78 L656.30 177.83 L656.80 177.87 L657.30 177.92 L657.80 177.96 L658.30 178.00 L658.80 178.05 L659.30 178.09 L659.80 178.13 L660.30 178.18 L660.80 178.22 L661.30 178.26 L661.80 178.30 L662.30 178.34 L662.80 178.38 L663.30 178.43 L663.80 178.47 L664.30 178.51 L664.80 178.55 L665.30 178.59 L665.80 178.62 L666.30 178.66 L666.80 178.70 L667.30 178.74 L667.80 178.78 L668.30 178.81 L668.80 178.85 L669.30 178.89 L669.80 178.92 L670.30 178.96 L670.80 178.99 L671.30 179.03 L671.80 179.06 L672.30 179.09 L672.80 179.13 L673.30 179.16 L673.80 179.19 L674.30 179.22 L674.80 179.25 L675.30 179.28 L675.80 179.31 L676.30 179.34 L676.80 179.36 L677.30 179.39 L677.80 179.42 L678.30 179.44 L678.80 179.47 L679.30 179.49 L679.81 179.51 L680.35 179.54 L680.90 179.56 L681.44 179.58 L681.96 179.60 L682.45 179.62 L682.90 179.64 L683.30 179.65 L683.50 179.66 L683.68 179.67 L683.84 179.67 L683.99 179.68 L684.14 179.68 L684.29 179.68 L684.44 179.69 L684.60 179.69" stroke="#2ca02c"/>
<path d="M340.20 175.91 L340.42 175.87 L340.63 175.84 L340.84 175.80 L341.06 175.76 L341.27 175.73 L341.50 175.69 L341.74 175.65 L342.00 175.61 L342.42 175.54 L342.89 175.47 L343.38 175.39 L343.90 175.31 L344.43 175.23 L344.96 175.15 L345.49 175.07 L346.00 175.00 L346.50 174.92 L347.00 174.85 L347.50 174.78 L348.00 174.72 L348.50 174.65 L349.00 174.58 L349.50 174.51 L350.00 174.45 L350.50 174.38 L351.00 174.32 L351.50 174.26 L352.00 174.19 L352.50 174.13 L353.00 174.07 L353.50 174.01 L354.00 173.95 L354.50 173.89 L355.00 173.83 L355.50 173.77 L356.00 173.71 L356.50 173.66 L357.00 173.60 L357.50 173.54 L358.00 173.48 L358.50 173.43 L359.00 173.37 L359.50 173.31 L360.00 173.26 L360.50 173.20 L361.00 173.15 L361.50 173.09 L362.00 173.03 L362.50 172.98 L363.00 172.92 L363.50 172.87 L364.00 172.81 L364.50 172.75 L365.00 172.70 L365.50 172.64 L366.00 172.58 L366.50 172.53 L367.00 172.47 L367.50 172.41 L368.00 172.36 L368.50 172.30 L369.00 172.24 L369.50 172.18 L370.00 172.12 L370.50 172.06 L371.00 172.00 L371.50 171.94 L372.00 171.88 L372.50 171.82 L373.00 171.75 L373.50 171.69 L374.00 171.63 L374.50 171.56 L375.00 171.49 L375.50 171.43 L376.00 171.36 L376.50 171.29 L377.00 171.22 L377.50 171.15 L378.00 171.08 L378.50 171.01 L379.00 170.94 L379.50 170.86 L380.00 170.79 L380.50 170.71 L381.00 170.64 L381.50 170.56 L382.00 170.48 L382.50 170.40 L383.00 170.31 L383.50 170.23 L384.00 170.15 L384.50 170.06 L385.00 169.97 L385.50 169.89 L386.00 169.80 L386.50 169.71 L387.00 169.61 L387.50 169.52 L388.00 169.43 L388.50 169.33 L389.00 169.24 L389.50 169.14 L390.00 169.04 L390.50 168.95 L391.00 168.85 L391.50 168.75 L392.00 168.65 L392.50 168.55 L393.00 168.45 L393.50 168.35 L394.00 168.24 L394.50 168.14 L395.00 168.04 L395.50 167.93 L396.00 167.83 L396.50 167.73 L397.00 167.62 L397.50 167.52 L398.00 167.41 L398.50 167.31 L399.00 167.20 L399.50 167.10 L400.00 166.99 L400.50 166.89 L401.00 166.78 L401.50 166.67 L402.00 166.57 L402.50 166.46 L403.00 166.36 L403.50 166.26 L404.00 166.15 L404.50 166.05 L405.00 165.94 L405.50 165.84 L406.00 165.74 L406.50 165.63 L407.00 165.53 L407.50 165.43 L408.00 165.33 L408.50 165.23 L409.00 165.13 L409.50 165.03 L410.00 164.93 L410.50 164.84 L411.00 164.74 L411.50 164.64 L412.00 164.55 L412.50 164.45 L413.00 164.36 L413.50 164.27 L414.00 164.18 L414.50 164.09 L415.00 164.00 L415.50 163.91 L416.00 163.83 L416.50 163.74 L417.00 163.66 L417.50 163.57 L418.00 163.49 L418.50 163.41 L419.00 163.33 L419.50 163.26 L420.00 163.18 L420.50 163.11 L421.00 163.04 L421.50 162.96 L422.00 162.90 L422.50 162.83 L423.00 162.76 L423.50 162.70 L424.00 162.64 L424.50 162.58 L425.00 162.52 L425.50 162.46 L426.00 162.41 L426.50 162.35 L427.00 162.30 L427.50 162.25 L428.00 162.21 L428.50 162.16 L429.00 162.12 L429.50 162.08 L430.00 162.04 L430.50 162.01 L431.00 161.98 L431.50 161.95 L432.00 161.92 L432.50 161.89 L433.00 161.87 L433.50 161.85 L434.00 161.83 L434.50 161.82 L435.00 161.80 L435.50 161.79 L436.00 161.78 L436.50 161.78 L437.00 161.78 L437.50 161.79 L438.00 161.80 L438.50 161.81 L439.00 161.83 L439.50 161.86 L440.00 161.89 L440.50 161.92 L441.00 161.97 L441.50 162.02 L442.00 162.08 L442.50 162.15 L443.00 162.22 L443.51 162.30 L444.01 162.39 L444.51 162.49 L445.01 162.60 L445.51 162.72 L446.00 162.86 L446.51 163.01 L447.02 163.17 L447.54 163.35 L448.05 163.54 L448.55 163.74 L449.05 163.95 L449.53 164.18 L450.00 164.41 L450.43 164.65 L450.85 164.91 L451.26 165.19 L451.66 165.47 L452.06 165.76 L452.44 166.04 L452.83 166.33 L453.20 166.60 L453.53 166.83 L453.84 167.06 L454.15 167.27 L454.46 167.49 L454.76 167.72 L455.06 167.96 L455.38 168.22 L455.70 168.50 L456.15 168.92 L456.62 169.40 L457.10 169.91 L457.58 170.45 L458.07 170.99 L458.53 171.52 L458.98 172.03 L459.40 172.50 L459.70 172.83 L460.00 173.14 L460.27 173.43 L460.54 173.72 L460.81 174.01 L461.07 174.32 L461.33 174.64 L461.60 175.00 L461.94 175.48 L462.27 175.99 L462.61 176.52 L462.94 177.08 L463.26 177.66 L463.58 178.26 L463.90 178.87 L464.20 179.50 L464.54 180.26 L464.87 181.06 L465.19 181.88 L465.50 182.72 L465.81 183.59 L466.11 184.48 L466.40 185.38 L466.70 186.30 L467.04 187.39 L467.38 188.50 L467.71 189.64 L468.03 190.80 L468.35 191.99 L468.67 193.20 L468.99 194.44 L469.30 195.70 L469.66 197.22 L470.02 198.81 L470.38 200.44 L470.73 202.10 L471.08 203.77 L471.42 205.44 L471.76 207.09 L472.10 208.70 L472.42 210.21 L472.74 211.69 L473.05 213.16 L473.36 214.63 L473.67 216.10 L473.98 217.58 L474.29 219.08 L474.60 220.60 L474.94 222.26 L475.28 223.94 L475.62 225.63 L475.96 227.33 L476.30 229.05 L476.64 230.79 L476.97 232.54 L477.30 234.30 L477.64 236.17 L477.96 238.04 L478.28 239.92 L478.59 241.81 L478.91 243.74 L479.23 245.71 L479.56 247.72 L479.90 249.80 L480.33 252.38 L480.77 255.06 L481.22 257.82 L481.68 260.63 L482.14 263.47 L482.60 266.33 L483.05 269.18 L483.50 272.00 L483.94 274.80 L484.36 277.54 L484.77 280.26 L485.18 283.00 L485.60 285.80 L486.04 288.70 L486.50 291.76 L487.00 295.00 L487.77 300.04 L488.61 305.65 L489.51 311.62 L490.44 317.76 L491.37 323.87 L492.29 329.74 L493.18 335.19 L494.00 340.00 L494.50 342.78 L494.99 345.37 L495.46 347.80 L495.93 350.12 L496.39 352.37 L496.85 354.59 L497.32 356.82 L497.80 359.10 L498.26 361.32 L498.73 363.54 L499.19 365.75 L499.66 367.95 L500.13 370.12 L500.61 372.26 L501.10 374.35 L501.60 376.40 L502.05 378.19 L502.50 379.98 L502.95 381.75 L503.40 383.48 L503.87 385.17 L504.36 386.79 L504.87 388.34 L505.40 389.80 L505.84 390.89 L506.32 391.98 L506.82 393.04 L507.32 394.05 L507.81 394.99 L508.28 395.85 L508.72 396.59 L509.10 397.20 L509.25 397.43 L509.40 397.62 L509.54 397.80 L509.67 397.96 L509.80 398.10 L509.93 398.23 L510.06 398.37 L510.20 398.50 L510.32 398.62 L510.44 398.73 L510.56 398.84 L510.68 398.94 L510.81 399.04 L510.93 399.14 L511.06 399.22 L511.20 399.30 L511.34 399.37 L511.49 399.45 L511.63 399.51 L511.79 399.57 L511.94 399.63 L512.10 399.67 L512.25 399.69 L512.40 399.70 L512.55 399.69 L512.70 399.67 L512.86 399.63 L513.01 399.57 L513.17 399.51 L513.31 399.45 L513.46 399.37 L513.60 399.30 L513.74 399.22 L513.87 399.14 L513.99 399.04 L514.12 398.94 L514.24 398.84 L514.36 398.73 L514.48 398.62 L514.60 398.50 L514.74 398.37 L514.87 398.23 L515.00 398.10 L515.13 397.96 L515.26 397.80 L515.40 397.62 L515.55 397.43 L515.70 397.20 L516.08 396.59 L516.52 395.85 L516.99 394.99 L517.48 394.05 L517.98 393.04 L518.48 391.98 L518.96 390.89 L519.40 389.80 L519.93 388.34 L520.44 386.79 L520.93 385.17 L521.40 383.48 L521.85 381.75 L522.30 379.98 L522.75 378.19 L523.20 376.40 L523.70 374.35 L524.19 372.26 L524.67 370.12 L525.14 367.95 L525.61 365.75 L526.07 363.54 L526.54 361.32 L527.00 359.10 L527.48 356.82 L527.95 354.59 L528.41 352.37 L528.87 350.12 L529.34 347.80 L529.81 345.37 L530.30 342.78 L530.80 340.00 L531.62 335.19 L532.51 329.74 L533.43 323.87 L534.36 317.76 L535.29 311.62 L536.19 305.65 L537.03 300.04 L537.80 295.00 L538.30 291.76 L538.76 288.70 L539.20 285.80 L539.62 283.00 L540.03 280.26 L540.44 277.54 L540.86 274.80 L541.30 272.00 L541.75 269.18 L542.20 266.33 L542.66 263.47 L543.12 260.63 L543.58 257.82 L544.03 255.06 L544.47 252.38 L544.90 249.80 L545.24 247.72 L545.57 245.71 L545.89 243.74 L546.21 241.81 L546.52 239.92 L546.84 238.04 L547.16 236.17 L547.50 234.30 L547.83 232.54 L548.16 230.79 L548.50 229.05 L548.84 227.33 L549.18 225.63 L549.52 223.94 L549.86 222.26 L550.20 220.60 L550.51 219.08 L550.82 217.58 L551.13 216.10 L551.44 214.63 L551.75 213.16 L552.06 211.69 L552.38 210.21 L552.70 208.70 L553.04 207.09 L553.38 205.44 L553.72 203.77 L554.07 202.10 L554.42 200.44 L554.78 198.81 L555.14 197.22 L555.50 195.70 L555.81 194.44 L556.13 193.20 L556.45 191.99 L556.77 190.80 L557.09 189.64 L557.42 188.50 L557.76 187.39 L558.10 186.30 L558.40 185.38 L558.69 184.48 L558.99 183.59 L559.30 182.72 L559.61 181.88 L559.93 181.06 L560.26 180.26 L560.60 179.50 L560.90 178.87 L561.22 178.26 L561.54 177.66 L561.86 177.08 L562.19 176.52 L562.53 175.99 L562.86 175.48 L563.20 175.00 L563.47 174.64 L563.73 174.32 L563.99 174.01 L564.26 173.72 L564.53 173.43 L564.80 173.14 L565.10 172.83 L565.40 172.50 L565.82 172.03 L566.27 171.52 L566.73 170.99 L567.22 170.45 L567.70 169.91 L568.18 169.40 L568.65 168.92 L569.10 168.50 L569.42 168.22 L569.74 167.96 L570.04 167.72 L570.34 167.49 L570.65 167.27 L570.96 167.06 L571.27 166.83 L571.60 166.60 L571.97 166.33 L572.36 166.04 L572.74 165.76 L573.14 165.47 L573.54 165.19 L573.95 164.91 L574.37 164.65 L574.80 164.41 L575.27 164.18 L575.75 163.95 L576.25 163.74 L576.75 163.54 L577.26 163.35 L577.78 163.17 L578.29 163.01 L578.80 162.86 L579.29 162.72 L579.79 162.60 L580.29 162.49 L580.79 162.39 L581.29 162.30 L581.80 162.22 L582.30 162.15 L582.80 162.08 L583.30 162.02 L583.80 161.97 L584.30 161.92 L584.80 161.89 L585.30 161.86 L585.80 161.83 L586.30 161.81 L586.80 161.80 L587.30 161.79 L587.80 161.78 L588.30 161.78 L588.80 161.78 L589.30 161.79 L589.80 161.80 L590.30 161.82 L590.80 161.83 L591.30 161.85 L591.80 161.87 L592.30 161.89 L592.80 161.92 L593.30 161.95 L593.80 161.98 L594.30 162.01 L594.80 162.04 L595.30 162.08 L595.80 162.12 L596.30 162.16 L596.80 162.21 L597.30 162.25 L597.80 162.30 L598.30 162.35 L598.80 162.41 L599.30 162.46 L599.80 162.52 L600.30 162.58 L600.80 162.64 L601.30 162.70 L601.80 162.76 L602.30 162.83 L602.80 162.90 L603.30 162.96 L603.80 163.04 L604.30 163.11 L604.80 163.18 L605.30 163.26 L605.80 163.33 L606.30 163.41 L606.80 163.49 L607.30 163.57 L607.80 163.66 L608.30 163.74 L608.80 163.83 L609.30 163.91 L609.80 164.00 L610.30 164.09 L610.80 164.18 L611.30 164.27 L611.80 164.36 L612.30 164.45 L612.80 164.55 L613.30 164.64 L613.80 164.74 L614.30 164.84 L614.80 164.93 L615.30 165.03 L615.80 165.13 L616.30 165.23 L616.80 165.33 L617.30 165.43 L617.80 165.53 L618.30 165.63 L618.80 165.74 L619.30 165.84 L619.80 165.94 L620.30 166.05 L620.80 166.15 L621.30 166.26 L621.80 166.36 L622.30 166.46 L622.80 166.57 L623.30 166.67 L623.80 166.78 L624.30 166.89 L624.80 166.99 L625.30 167.10 L625.80 167.20 L626.30 167.31 L626.80 167.41 L627.30 167.52 L627.80 167.62 L628.30 167.73 L628.80 167.83 L629.30 167.93 L629.80 168.04 L630.30 168.14 L630.80 168.24 L631.30 168.35 L631.80 168.45 L632.30 168.55 L632.80 168.65 L633.30 168.75 L633.80 168.85 L634.30 168.95 L634.80 169.04 L635.30 169.14 L635.80 169.24 L636.30 169.33 L636.80 169.43 L637.30 169.52 L637.80 169.61 L638.30 169.71 L638.80 169.80 L639.30 169.89 L639.80 169.97 L640.30 170.06 L640.80 170.15 L641.30 170.23 L641.80 170.31 L642.30 170.40 L642.80 170.48 L643.30 170.56 L643.80 170.64 L644.30 170.71 L644.80 170.79 L645.30 170.86 L645.80 170.94 L646.30 171.01 L646.80 171.08 L647.30 171.15 L647.80 171.22 L648.30 171.29 L648.80 171.36 L649.30 171.43 L649.80 171.49 L650.30 171.56 L650.80 171.63 L651.30 171.69 L651.80 171.75 L652.30 171.82 L652.80 171.88 L653.30 171.94 L653.80 172.00 L654.30 172.06 L654.80 172.12 L655.30 172.18 L655.80 172.24 L656.30 172.30 L656.80 172.36 L657.30 172.41 L657.80 172.47 L658.30 172.53 L658.80 172.58 L659.30 172.64 L659.80 172.70 L660.30 172.75 L660.80 172.81 L661.30 172.87 L661.80 172.92 L662.30 172.98 L662.80 173.03 L663.30 173.09 L663.80 173.15 L664.30 173.20 L664.80 173.26 L665.30 173.31 L665.80 173.37 L666.30 173.43 L666.80 173.48 L667.30 173.54 L667.80 173.60 L668.30 173.66 L668.80 173.71 L669.30 173.77 L669.80 173.83 L670.30 173.89 L670.80 173.95 L671.30 174.01 L671.80 174.07 L672.30 174.13 L672.80 174.19 L673.30 174.26 L673.80 174.32 L674.30 174.38 L674.80 174.45 L675.30 174.51 L675.80 174.58 L676.30 174.65 L676.80 174.72 L677.30 174.78 L677.80 174.85 L678.30 174.92 L678.80 175.00 L679.31 175.07 L679.84 175.15 L680.37 175.23 L680.90 175.31 L681.42 175.39 L681.91 175.47 L682.38 175.54 L682.80 175.61 L683.06 175.65 L683.30 175.69 L683.53 175.73 L683.74 175.76 L683.96 175.80 L684.17 175.84 L684.38 175.87 L684.60 175.91" stroke="#d62728"/>
<path d="M340.20 167.65 L340.26 167.63 L340.31 167.61 L340.37 167.60 L340.42 167.58 L340.48 167.56 L340.54 167.54 L340.61 167.51 L340.70 167.49 L341.02 167.38 L341.43 167.25 L341.92 167.10 L342.46 166.93 L343.03 166.75 L343.61 166.57 L344.17 166.39 L344.70 166.23 L345.20 166.08 L345.70 165.93 L346.20 165.78 L346.70 165.64 L347.20 165.49 L347.70 165.35 L348.20 165.21 L348.70 165.06 L349.20 164.92 L349.70 164.78 L350.20 164.64 L350.70 164.51 L351.20 164.37 L351.70 164.23 L352.20 164.10 L352.70 163.96 L353.20 163.83 L353.70 163.69 L354.20 163.56 L354.70 163.43 L355.20 163.29 L355.70 163.16 L356.20 163.03 L356.70 162.90 L357.20 162.77 L357.70 162.64 L358.20 162.51 L358.70 162.38 L359.20 162.25 L359.70 162.12 L360.20 161.99 L360.70 161.86 L361.20 161.73 L361.70 161.59 L362.20 161.46 L362.70 161.33 L363.20 161.20 L363.70 161.07 L364.20 160.94 L364.70 160.81 L365.20 160.67 L365.70 160.54 L366.20 160.41 L366.70 160.27 L367.20 160.14 L367.70 160.00 L368.20 159.86 L368.70 159.73 L369.20 159.59 L369.70 159.45 L370.20 159.31 L370.70 159.17 L371.20 159.02 L371.70 158.88 L372.20 158.74 L372.70 158.59 L373.20 158.44 L373.70 158.29 L374.20 158.15 L374.70 157.99 L375.20 157.84 L375.70 157.69 L376.20 157.53 L376.70 157.38 L377.20 157.22 L377.70 157.06 L378.20 156.90 L378.70 156.73 L379.20 156.57 L379.70 156.40 L380.20 156.23 L380.70 156.06 L381.20 155.89 L381.70 155.71 L382.20 155.54 L382.70 155.36 L383.20 155.18 L383.70 154.99 L384.20 154.81 L384.70 154.62 L385.20 154.43 L385.70 154.24 L386.20 154.04 L386.70 153.84 L387.20 153.64 L387.70 153.44 L388.20 153.24 L388.70 153.03 L389.20 152.82 L389.70 152.60 L390.20 152.39 L390.70 152.17 L391.20 151.95 L391.70 151.72 L392.20 151.50 L392.70 151.27 L393.20 151.03 L393.70 150.79 L394.20 150.55 L394.71 150.31 L395.20 150.06 L395.70 149.81 L396.20 149.56 L396.70 149.30 L397.20 149.04 L397.70 148.78 L398.21 148.51 L398.71 148.24 L399.21 147.96 L399.70 147.68 L400.20 147.40 L400.70 147.12 L401.20 146.83 L401.71 146.53 L402.21 146.23 L402.71 145.93 L403.21 145.63 L403.71 145.32 L404.20 145.01 L404.70 144.69 L405.20 144.37 L405.71 144.04 L406.21 143.71 L406.71 143.38 L407.21 143.04 L407.70 142.71 L408.20 142.37 L408.70 142.02 L409.20 141.67 L409.70 141.32 L410.21 140.96 L410.71 140.60 L411.21 140.24 L411.70 139.87 L412.20 139.50 L412.70 139.14 L413.20 138.76 L413.70 138.38 L414.21 138.00 L414.71 137.61 L415.21 137.23 L415.70 136.84 L416.20 136.45 L416.70 136.05 L417.20 135.66 L417.70 135.25 L418.20 134.85 L418.70 134.45 L419.20 134.04 L419.70 133.63 L420.20 133.22 L420.70 132.81 L421.20 132.39 L421.70 131.97 L422.20 131.54 L422.70 131.12 L423.20 130.70 L423.70 130.27 L424.20 129.84 L424.70 129.41 L425.20 128.98 L425.70 128.54 L426.20 128.10 L426.70 127.66 L427.20 127.22 L427.70 126.78 L428.20 126.34 L428.70 125.89 L429.20 125.45 L429.70 124.99 L430.20 124.54 L430.70 124.09 L431.20 123.64 L431.70 123.18 L432.20 122.73 L432.70 122.28 L433.20 121.84 L433.70 121.39 L434.19 120.94 L434.69 120.49 L435.19 120.05 L435.69 119.61 L436.19 119.17 L436.70 118.75 L437.19 118.34 L437.66 117.93 L438.13 117.53 L438.60 117.13 L439.09 116.74 L439.60 116.36 L440.13 115.99 L440.70 115.64 L441.45 115.20 L442.27 114.74 L443.14 114.27 L444.03 113.83 L444.93 113.44 L445.80 113.12 L446.64 112.90 L447.40 112.80 L447.93 112.81 L448.44 112.86 L448.93 112.96 L449.41 113.10 L449.88 113.29 L450.33 113.52 L450.77 113.79 L451.20 114.10 L451.75 114.58 L452.28 115.16 L452.78 115.82 L453.27 116.55 L453.73 117.33 L454.18 118.16 L454.60 119.02 L455.00 119.90 L455.48 121.12 L455.92 122.46 L456.31 123.88 L456.67 125.37 L457.00 126.89 L457.31 128.42 L457.61 129.93 L457.90 131.40 L458.17 132.79 L458.41 134.13 L458.63 135.45 L458.84 136.79 L459.03 138.16 L459.22 139.60 L459.41 141.14 L459.60 142.80 L459.91 145.62 L460.21 148.70 L460.52 151.99 L460.81 155.45 L461.09 159.03 L461.35 162.68 L461.59 166.35 L461.80 170.00 L462.00 174.13 L462.16 178.33 L462.29 182.61 L462.40 186.95 L462.49 191.36 L462.58 195.84 L462.68 200.38 L462.80 205.00 L462.95 210.25 L463.09 215.49 L463.24 220.78 L463.39 226.18 L463.54 231.75 L463.69 237.53 L463.85 243.60 L464.00 250.00 L464.22 260.23 L464.44 271.89 L464.67 284.41 L464.90 297.22 L465.13 309.76 L465.35 321.45 L465.58 331.72 L465.80 340.00 L465.89 343.08 L465.98 345.82 L466.06 348.29 L466.14 350.57 L466.23 352.72 L466.34 354.81 L466.46 356.91 L466.60 359.10 L466.74 361.11 L466.89 363.10 L467.06 365.06 L467.23 367.00 L467.42 368.91 L467.62 370.78 L467.85 372.61 L468.10 374.40 L468.33 375.93 L468.57 377.44 L468.82 378.93 L469.08 380.38 L469.37 381.81 L469.68 383.20 L470.02 384.57 L470.40 385.90 L470.76 387.06 L471.13 388.21 L471.53 389.34 L471.94 390.44 L472.39 391.51 L472.86 392.55 L473.36 393.54 L473.90 394.50 L474.41 395.33 L474.94 396.15 L475.50 396.94 L476.08 397.69 L476.68 398.42 L477.32 399.10 L477.99 399.73 L478.70 400.30 L479.43 400.80 L480.20 401.25 L481.01 401.64 L481.84 402.00 L482.70 402.32 L483.58 402.62 L484.48 402.91 L485.40 403.20 L486.48 403.52 L487.60 403.81 L488.75 404.07 L489.92 404.31 L491.13 404.53 L492.36 404.73 L493.62 404.92 L494.90 405.10 L496.51 405.29 L498.26 405.44 L500.09 405.57 L501.93 405.68 L503.73 405.78 L505.44 405.86 L506.98 405.93 L508.30 406.00 L508.93 406.04 L509.49 406.07 L510.01 406.11 L510.50 406.14 L510.97 406.16 L511.43 406.18 L511.90 406.20 L512.40 406.20 L512.90 406.20 L513.37 406.18 L513.83 406.16 L514.30 406.14 L514.79 406.11 L515.31 406.07 L515.87 406.04 L516.50 406.00 L517.82 405.93 L519.36 405.86 L521.07 405.78 L522.87 405.68 L524.71 405.57 L526.54 405.44 L528.29 405.29 L529.90 405.10 L531.18 404.92 L532.44 404.73 L533.67 404.53 L534.88 404.31 L536.05 404.07 L537.20 403.81 L538.32 403.52 L539.40 403.20 L540.32 402.91 L541.22 402.62 L542.10 402.32 L542.96 402.00 L543.79 401.64 L544.60 401.25 L545.37 400.80 L546.10 400.30 L546.81 399.73 L547.48 399.10 L548.12 398.42 L548.72 397.69 L549.30 396.94 L549.86 396.15 L550.39 395.33 L550.90 394.50 L551.44 393.54 L551.94 392.55 L552.41 391.51 L552.86 390.44 L553.27 389.34 L553.67 388.21 L554.04 387.06 L554.40 385.90 L554.78 384.57 L555.12 383.20 L555.43 381.81 L555.72 380.38 L555.98 378.93 L556.23 377.44 L556.47 375.93 L556.70 374.40 L556.95 372.61 L557.18 370.78 L557.38 368.91 L557.57 367.00 L557.74 365.06 L557.91 363.10 L558.06 361.11 L558.20 359.10 L558.34 356.91 L558.46 354.81 L558.57 352.72 L558.66 350.57 L558.74 348.29 L558.82 345.82 L558.91 343.08 L559.00 340.00 L559.22 331.72 L559.45 321.45 L559.67 309.76 L559.90 297.22 L560.13 284.41 L560.36 271.89 L560.58 260.23 L560.80 250.00 L560.95 243.60 L561.11 237.53 L561.26 231.75 L561.41 226.18 L561.56 220.78 L561.71 215.49 L561.85 210.25 L562.00 205.00 L562.12 200.38 L562.22 195.84 L562.31 191.36 L562.40 186.95 L562.51 182.61 L562.64 178.33 L562.80 174.13 L563.00 170.00 L563.21 166.35 L563.45 162.68 L563.71 159.03 L563.99 155.45 L564.28 151.99 L564.59 148.70 L564.89 145.62 L565.20 142.80 L565.39 141.14 L565.58 139.60 L565.77 138.16 L565.96 136.79 L566.17 135.45 L566.39 134.13 L566.63 132.79 L566.90 131.40 L567.19 129.93 L567.49 128.42 L567.80 126.89 L568.13 125.37 L568.49 123.88 L568.88 122.46 L569.32 121.12 L569.80 119.90 L570.20 119.02 L570.62 118.16 L571.07 117.33 L571.53 116.55 L572.02 115.82 L572.52 115.16 L573.05 114.58 L573.60 114.10 L574.03 113.79 L574.47 113.52 L574.92 113.29 L575.39 113.10 L575.87 112.96 L576.36 112.86 L576.87 112.81 L577.40 112.80 L578.16 112.90 L579.00 113.12 L579.87 113.44 L580.77 113.83 L581.66 114.27 L582.53 114.74 L583.35 115.20 L584.10 115.64 L584.67 115.99 L585.20 116.36 L585.71 116.74 L586.20 117.13 L586.67 117.53 L587.14 117.93 L587.61 118.34 L588.10 118.75 L588.61 119.17 L589.11 119.61 L589.61 120.05 L590.11 120.49 L590.61 120.94 L591.10 121.39 L591.60 121.84 L592.10 122.28 L592.60 122.73 L593.10 123.18 L593.60 123.64 L594.10 124.09 L594.60 124.54 L595.10 124.99 L595.60 125.45 L596.10 125.89 L596.60 126.34 L597.10 126.78 L597.60 127.22 L598.10 127.66 L598.60 128.10 L599.10 128.54 L599.60 128.98 L600.10 129.41 L600.60 129.84 L601.10 130.27 L601.60 130.70 L602.10 131.12 L602.60 131.54 L603.10 131.97 L603.60 132.39 L604.10 132.81 L604.60 133.22 L605.10 133.63 L605.60 134.04 L606.10 134.45 L606.60 134.85 L607.10 135.25 L607.60 135.66 L608.10 136.05 L608.60 136.45 L609.10 136.84 L609.59 137.23 L610.09 137.61 L610.59 138.00 L611.10 138.38 L611.60 138.76 L612.10 139.14 L612.60 139.50 L613.10 139.87 L613.59 140.24 L614.09 140.60 L614.59 140.96 L615.10 141.32 L615.60 141.67 L616.10 142.02 L616.60 142.37 L617.10 142.71 L617.59 143.04 L618.09 143.38 L618.59 143.71 L619.09 144.04 L619.60 144.37 L620.10 144.69 L620.60 145.01 L621.09 145.32 L621.59 145.63 L622.09 145.93 L622.59 146.23 L623.09 146.53 L623.60 146.83 L624.10 147.12 L624.60 147.40 L625.10 147.68 L625.59 147.96 L626.09 148.24 L626.59 148.51 L627.10 148.78 L627.60 149.04 L628.10 149.30 L628.60 149.56 L629.10 149.81 L629.60 150.06 L630.09 150.31 L630.60 150.55 L631.10 150.79 L631.60 151.03 L632.10 151.27 L632.60 151.50 L633.10 151.72 L633.60 151.95 L634.10 152.17 L634.60 152.39 L635.10 152.60 L635.60 152.82 L636.10 153.03 L636.60 153.24 L637.10 153.44 L637.60 153.64 L638.10 153.84 L638.60 154.04 L639.10 154.24 L639.60 154.43 L640.10 154.62 L640.60 154.81 L641.10 154.99 L641.60 155.18 L642.10 155.36 L642.60 155.54 L643.10 155.71 L643.60 155.89 L644.10 156.06 L644.60 156.23 L645.10 156.40 L645.60 156.57 L646.10 156.73 L646.60 156.90 L647.10 157.06 L647.60 157.22 L648.10 157.38 L648.60 157.53 L649.10 157.69 L649.60 157.84 L650.10 157.99 L650.60 158.15 L651.10 158.29 L651.60 158.44 L652.10 158.59 L652.60 158.74 L653.10 158.88 L653.60 159.02 L654.10 159.17 L654.60 159.31 L655.10 159.45 L655.60 159.59 L656.10 159.73 L656.60 159.86 L657.10 160.00 L657.60 160.14 L658.10 160.27 L658.60 160.41 L659.10 160.54 L659.60 160.67 L660.10 160.81 L660.60 160.94 L661.10 161.07 L661.60 161.20 L662.10 161.33 L662.60 161.46 L663.10 161.59 L663.60 161.73 L664.10 161.86 L664.60 161.99 L665.10 162.12 L665.60 162.25 L666.10 162.38 L666.60 162.51 L667.10 162.64 L667.60 162.77 L668.10 162.90 L668.60 163.03 L669.10 163.16 L669.60 163.29 L670.10 163.43 L670.60 163.56 L671.10 163.69 L671.60 163.83 L672.10 163.96 L672.60 164.10 L673.10 164.23 L673.60 164.37 L674.10 164.51 L674.60 164.64 L675.10 164.78 L675.60 164.92 L676.10 165.06 L676.60 165.21 L677.10 165.35 L677.60 165.49 L678.10 165.64 L678.60 165.78 L679.10 165.93 L679.60 166.08 L680.10 166.23 L680.63 166.39 L681.19 166.57 L681.77 166.75 L682.34 166.93 L682.88 167.10 L683.37 167.25 L683.78 167.38 L684.10 167.49 L684.19 167.51 L684.26 167.54 L684.32 167.56 L684.38 167.58 L684.43 167.60 L684.49 167.61 L684.54 167.63 L684.60 167.65" stroke="#9467bd"/>
<path d="M340.20 156.61 L340.62 156.45 L341.04 156.29 L341.46 156.13 L341.88 155.96 L342.31 155.80 L342.73 155.64 L343.16 155.47 L343.60 155.29 L344.09 155.10 L344.58 154.90 L345.08 154.70 L345.58 154.49 L346.09 154.28 L346.59 154.07 L347.10 153.85 L347.60 153.64 L348.10 153.42 L348.60 153.21 L349.10 152.99 L349.60 152.76 L350.10 152.54 L350.60 152.32 L351.10 152.09 L351.60 151.86 L352.10 151.63 L352.60 151.39 L353.10 151.16 L353.60 150.92 L354.10 150.68 L354.60 150.44 L355.10 150.19 L355.60 149.95 L356.10 149.70 L356.60 149.44 L357.10 149.19 L357.60 148.93 L358.10 148.67 L358.60 148.41 L359.10 148.15 L359.60 147.88 L360.10 147.61 L360.60 147.34 L361.10 147.07 L361.60 146.79 L362.10 146.51 L362.60 146.23 L363.10 145.95 L363.60 145.66 L364.10 145.37 L364.60 145.08 L365.10 144.78 L365.60 144.49 L366.10 144.19 L366.60 143.88 L367.10 143.58 L367.60 143.27 L368.10 142.96 L368.60 142.64 L369.10 142.33 L369.61 142.01 L370.11 141.68 L370.60 141.36 L371.10 141.03 L371.60 140.70 L372.10 140.36 L372.60 140.02 L373.11 139.68 L373.61 139.34 L374.11 138.99 L374.60 138.64 L375.10 138.29 L375.60 137.93 L376.10 137.57 L376.60 137.20 L377.11 136.84 L377.61 136.47 L378.11 136.09 L378.60 135.72 L379.10 135.34 L379.60 134.96 L380.10 134.57 L380.61 134.18 L381.11 133.78 L381.61 133.39 L382.11 132.98 L382.61 132.58 L383.10 132.18 L383.60 131.77 L384.10 131.35 L384.61 130.93 L385.11 130.51 L385.61 130.08 L386.11 129.65 L386.61 129.22 L387.10 128.79 L387.60 128.35 L388.10 127.90 L388.61 127.45 L389.11 127.00 L389.61 126.54 L390.11 126.08 L390.61 125.62 L391.10 125.16 L391.60 124.69 L392.10 124.21 L392.61 123.73 L393.11 123.25 L393.61 122.76 L394.11 122.27 L394.61 121.77 L395.11 121.27 L395.60 120.76 L396.11 120.24 L396.61 119.71 L397.12 119.17 L397.62 118.63 L398.12 118.08 L398.61 117.53 L399.11 116.96 L399.60 116.39 L400.11 115.79 L400.62 115.17 L401.12 114.55 L401.63 113.92 L402.12 113.28 L402.62 112.64 L403.11 111.98 L403.60 111.31 L404.11 110.59 L404.62 109.86 L405.13 109.12 L405.63 108.37 L406.13 107.60 L406.62 106.83 L407.11 106.04 L407.60 105.25 L408.12 104.38 L408.63 103.50 L409.13 102.60 L409.64 101.69 L410.13 100.77 L410.63 99.84 L411.12 98.89 L411.60 97.93 L412.12 96.88 L412.63 95.82 L413.13 94.74 L413.64 93.64 L414.13 92.54 L414.63 91.41 L415.11 90.28 L415.60 89.14 L416.11 87.91 L416.61 86.69 L417.10 85.46 L417.59 84.21 L418.08 82.94 L418.57 81.63 L419.08 80.26 L419.60 78.84 L420.29 76.91 L421.00 74.87 L421.72 72.74 L422.46 70.55 L423.20 68.33 L423.94 66.10 L424.68 63.88 L425.40 61.70 L426.12 59.52 L426.85 57.32 L427.57 55.10 L428.30 52.88 L429.01 50.69 L429.72 48.53 L430.42 46.43 L431.10 44.40 L431.68 42.65 L432.27 40.83 L432.85 39.00 L433.43 37.23 L433.99 35.56 L434.53 34.06 L435.03 32.79 L435.50 31.80 L435.67 31.47 L435.84 31.16 L436.00 30.88 L436.16 30.63 L436.32 30.42 L436.48 30.25 L436.64 30.15 L436.80 30.10 L436.95 30.12 L437.11 30.20 L437.26 30.32 L437.42 30.48 L437.58 30.67 L437.73 30.87 L437.87 31.09 L438.00 31.30 L438.18 31.63 L438.34 31.98 L438.48 32.36 L438.62 32.78 L438.74 33.24 L438.86 33.74 L438.98 34.29 L439.10 34.90 L439.36 36.55 L439.61 38.56 L439.83 40.87 L440.03 43.39 L440.22 46.04 L440.39 48.74 L440.55 51.42 L440.70 54.00 L440.84 56.77 L440.95 59.61 L441.05 62.49 L441.12 65.40 L441.19 68.32 L441.26 71.24 L441.32 74.13 L441.40 77.00 L441.48 79.67 L441.56 82.20 L441.64 84.65 L441.71 87.13 L441.79 89.71 L441.86 92.50 L441.93 95.56 L442.00 99.00 L442.12 107.13 L442.23 116.81 L442.33 127.64 L442.42 139.22 L442.51 151.15 L442.60 163.02 L442.70 174.44 L442.80 185.00 L442.89 193.49 L442.98 201.64 L443.06 209.58 L443.15 217.41 L443.24 225.25 L443.35 233.22 L443.46 241.43 L443.60 250.00 L443.79 261.01 L443.99 273.03 L444.22 285.60 L444.46 298.24 L444.71 310.48 L444.97 321.83 L445.24 331.83 L445.50 340.00 L445.62 343.09 L445.74 345.85 L445.86 348.35 L445.98 350.64 L446.11 352.81 L446.23 354.89 L446.36 356.97 L446.50 359.10 L446.61 360.90 L446.71 362.64 L446.82 364.35 L446.92 366.02 L447.04 367.66 L447.17 369.28 L447.32 370.89 L447.50 372.50 L447.68 373.99 L447.87 375.47 L448.07 376.94 L448.28 378.39 L448.51 379.82 L448.78 381.24 L449.07 382.63 L449.40 384.00 L449.73 385.27 L450.07 386.54 L450.43 387.79 L450.82 389.03 L451.24 390.23 L451.71 391.40 L452.22 392.53 L452.80 393.60 L453.39 394.57 L454.02 395.51 L454.70 396.42 L455.41 397.30 L456.16 398.14 L456.94 398.92 L457.76 399.64 L458.60 400.30 L459.44 400.86 L460.32 401.36 L461.22 401.79 L462.16 402.18 L463.13 402.54 L464.12 402.87 L465.15 403.18 L466.20 403.50 L467.50 403.86 L468.85 404.18 L470.24 404.47 L471.68 404.73 L473.14 404.97 L474.64 405.19 L476.16 405.40 L477.70 405.60 L479.49 405.82 L481.32 406.01 L483.19 406.18 L485.09 406.33 L487.03 406.46 L488.99 406.59 L490.98 406.70 L493.00 406.80 L495.31 406.90 L497.69 406.99 L500.10 407.06 L502.55 407.11 L505.02 407.15 L507.50 407.18 L509.96 407.20 L512.40 407.20 L514.84 407.20 L517.30 407.18 L519.78 407.15 L522.25 407.11 L524.70 407.06 L527.11 406.99 L529.49 406.90 L531.80 406.80 L533.82 406.70 L535.81 406.59 L537.77 406.46 L539.71 406.33 L541.61 406.18 L543.48 406.01 L545.31 405.82 L547.10 405.60 L548.64 405.40 L550.16 405.19 L551.66 404.97 L553.12 404.73 L554.56 404.47 L555.95 404.18 L557.30 403.86 L558.60 403.50 L559.65 403.18 L560.68 402.87 L561.67 402.54 L562.64 402.18 L563.58 401.79 L564.48 401.36 L565.36 400.86 L566.20 400.30 L567.04 399.64 L567.86 398.92 L568.64 398.14 L569.39 397.30 L570.10 396.42 L570.78 395.51 L571.41 394.57 L572.00 393.60 L572.58 392.53 L573.09 391.40 L573.56 390.23 L573.98 389.03 L574.37 387.79 L574.73 386.54 L575.07 385.27 L575.40 384.00 L575.73 382.63 L576.02 381.24 L576.29 379.82 L576.52 378.39 L576.73 376.94 L576.93 375.47 L577.12 373.99 L577.30 372.50 L577.48 370.89 L577.63 369.28 L577.76 367.66 L577.88 366.02 L577.98 364.35 L578.09 362.64 L578.19 360.90 L578.30 359.10 L578.44 356.97 L578.57 354.89 L578.69 352.81 L578.82 350.64 L578.94 348.35 L579.06 345.85 L579.18 343.09 L579.30 340.00 L579.56 331.83 L579.83 321.83 L580.09 310.48 L580.34 298.24 L580.58 285.60 L580.81 273.03 L581.01 261.01 L581.20 250.00 L581.34 241.43 L581.45 233.22 L581.56 225.25 L581.65 217.41 L581.74 209.58 L581.82 201.64 L581.91 193.49 L582.00 185.00 L582.10 174.44 L582.20 163.02 L582.29 151.15 L582.38 139.22 L582.47 127.64 L582.57 116.81 L582.68 107.13 L582.80 99.00 L582.87 95.56 L582.94 92.50 L583.01 89.71 L583.09 87.13 L583.16 84.65 L583.24 82.20 L583.32 79.67 L583.40 77.00 L583.48 74.13 L583.54 71.24 L583.61 68.32 L583.68 65.40 L583.75 62.49 L583.85 59.61 L583.96 56.77 L584.10 54.00 L584.25 51.42 L584.41 48.74 L584.58 46.04 L584.77 43.39 L584.97 40.87 L585.19 38.56 L585.44 36.55 L585.70 34.90 L585.82 34.29 L585.94 33.74 L586.06 33.24 L586.18 32.78 L586.32 32.36 L586.46 31.98 L586.62 31.63 L586.80 31.30 L586.93 31.09 L587.07 30.87 L587.22 30.67 L587.38 30.48 L587.54 30.32 L587.69 30.20 L587.85 30.12 L588.00 30.10 L588.16 30.15 L588.32 30.25 L588.48 30.42 L588.64 30.63 L588.80 30.88 L588.96 31.16 L589.13 31.47 L589.30 31.80 L589.77 32.79 L590.27 34.06 L590.81 35.56 L591.37 37.23 L591.95 39.00 L592.53 40.83 L593.12 42.65 L593.70 44.40 L594.38 46.43 L595.08 48.53 L595.79 50.69 L596.50 52.88 L597.23 55.10 L597.95 57.32 L598.68 59.52 L599.40 61.70 L600.12 63.88 L600.86 66.10 L601.60 68.33 L602.34 70.55 L603.08 72.74 L603.80 74.87 L604.51 76.91 L605.20 78.84 L605.72 80.26 L606.23 81.63 L606.72 82.94 L607.21 84.21 L607.70 85.46 L608.19 86.69 L608.69 87.91 L609.20 89.14 L609.69 90.28 L610.17 91.41 L610.67 92.54 L611.16 93.64 L611.67 94.74 L612.17 95.82 L612.68 96.88 L613.20 97.93 L613.68 98.89 L614.17 99.84 L614.67 100.77 L615.16 101.69 L615.67 102.60 L616.17 103.50 L616.68 104.38 L617.20 105.25 L617.69 106.04 L618.18 106.83 L618.67 107.60 L619.17 108.37 L619.67 109.12 L620.18 109.86 L620.69 110.59 L621.20 111.31 L621.69 111.98 L622.18 112.64 L622.68 113.28 L623.17 113.92 L623.68 114.55 L624.18 115.17 L624.69 115.79 L625.20 116.39 L625.69 116.96 L626.19 117.53 L626.68 118.08 L627.18 118.63 L627.68 119.17 L628.19 119.71 L628.69 120.24 L629.20 120.76 L629.69 121.27 L630.19 121.77 L630.69 122.27 L631.19 122.76 L631.69 123.25 L632.19 123.73 L632.70 124.21 L633.20 124.69 L633.70 125.16 L634.19 125.62 L634.69 126.08 L635.19 126.54 L635.69 127.00 L636.19 127.45 L636.70 127.90 L637.20 128.35 L637.70 128.79 L638.19 129.22 L638.69 129.65 L639.19 130.08 L639.69 130.51 L640.19 130.93 L640.70 131.35 L641.20 131.77 L641.70 132.18 L642.19 132.58 L642.69 132.98 L643.19 133.39 L643.69 133.78 L644.19 134.18 L644.70 134.57 L645.20 134.96 L645.70 135.34 L646.20 135.72 L646.69 136.09 L647.19 136.47 L647.69 136.84 L648.20 137.20 L648.70 137.57 L649.20 137.93 L649.70 138.29 L650.20 138.64 L650.69 138.99 L651.19 139.34 L651.69 139.68 L652.20 140.02 L652.70 140.36 L653.20 140.70 L653.70 141.03 L654.20 141.36 L654.69 141.68 L655.19 142.01 L655.70 142.33 L656.20 142.64 L656.70 142.96 L657.20 143.27 L657.70 143.58 L658.20 143.88 L658.70 144.19 L659.20 144.49 L659.70 144.78 L660.20 145.08 L660.70 145.37 L661.20 145.66 L661.70 145.95 L662.20 146.23 L662.70 146.51 L663.20 146.79 L663.70 147.07 L664.20 147.34 L664.70 147.61 L665.20 147.88 L665.70 148.15 L666.20 148.41 L666.70 148.67 L667.20 148.93 L667.70 149.19 L668.20 149.44 L668.70 149.70 L669.20 149.95 L669.70 150.19 L670.20 150.44 L670.70 150.68 L671.20 150.92 L671.70 151.16 L672.20 151.39 L672.70 151.63 L673.20 151.86 L673.70 152.09 L674.20 152.32 L674.70 152.54 L675.20 152.76 L675.70 152.99 L676.20 153.21 L676.70 153.42 L677.20 153.64 L677.70 153.85 L678.21 154.07 L678.71 154.28 L679.22 154.49 L679.72 154.70 L680.22 154.90 L680.71 155.10 L681.20 155.29 L681.64 155.47 L682.07 155.64 L682.49 155.80 L682.92 155.96 L683.34 156.13 L683.76 156.29 L684.18 156.45 L684.60 156.61" stroke="#8c564b"/>
</g>
<rect x="340.70" y="11.30" width="343.80" height="414.30" fill="none" stroke="#262626" stroke-width="1"/>
<line x1="374.40" y1="425.60" x2="374.40" y2="429.80" stroke="#262626" stroke-width="1"/>
<line x1="362.15" y1="440.44" x2="371.44" y2="440.44" stroke="#161616" stroke-width="0.95"/>
<text x="372.71" y="445.00" font-size="15.2" textLength="15.20" lengthAdjust="spacingAndGlyphs">20</text>
<line x1="443.40" y1="425.60" x2="443.40" y2="429.80" stroke="#262626" stroke-width="1"/>
<line x1="431.15" y1="440.44" x2="440.44" y2="440.44" stroke="#161616" stroke-width="0.95"/>
<text x="441.71" y="445.00" font-size="15.2" textLength="15.20" lengthAdjust="spacingAndGlyphs">10</text>
<line x1="512.40" y1="425.60" x2="512.40" y2="429.80" stroke="#262626" stroke-width="1"/>
<text x="508.60" y="445.00" font-size="15.2" textLength="7.60" lengthAdjust="spacingAndGlyphs">0</text>
<line x1="581.40" y1="425.60" x2="581.40" y2="429.80" stroke="#262626" stroke-width="1"/>
<text x="573.80" y="445.00" font-size="15.2" textLength="15.20" lengthAdjust="spacingAndGlyphs">10</text>
<line x1="650.40" y1="425.60" x2="650.40" y2="429.80" stroke="#262626" stroke-width="1"/>
<text x="642.80" y="445.00" font-size="15.2" textLength="15.20" lengthAdjust="spacingAndGlyphs">20</text>
<line x1="336.50" y1="410.60" x2="340.70" y2="410.60" stroke="#262626" stroke-width="1"/>
<text x="305.37" y="416.40" font-size="15.2" textLength="27.03" lengthAdjust="spacingAndGlyphs">0.00</text>
<line x1="336.50" y1="355.45" x2="340.70" y2="355.45" stroke="#262626" stroke-width="1"/>
<text x="305.37" y="361.25" font-size="15.2" textLength="27.03" lengthAdjust="spacingAndGlyphs">0.25</text>
<line x1="336.50" y1="300.30" x2="340.70" y2="300.30" stroke="#262626" stroke-width="1"/>
<text x="305.37" y="306.10" font-size="15.2" textLength="27.03" lengthAdjust="spacingAndGlyphs">0.50</text>
<line x1="336.50" y1="245.15" x2="340.70" y2="245.15" stroke="#262626" stroke-width="1"/>
<text x="305.37" y="250.95" font-size="15.2" textLength="27.03" lengthAdjust="spacingAndGlyphs">0.75</text>
<line x1="336.50" y1="190.00" x2="340.70" y2="190.00" stroke="#262626" stroke-width="1"/>
<text x="305.37" y="195.80" font-size="15.2" textLength="27.03" lengthAdjust="spacingAndGlyphs">1.00</text>
<line x1="336.50" y1="134.85" x2="340.70" y2="134.85" stroke="#262626" stroke-width="1"/>
<text x="305.37" y="140.65" font-size="15.2" textLength="27.03" lengthAdjust="spacingAndGlyphs">1.25</text>
<line x1="336.50" y1="79.70" x2="340.70" y2="79.70" stroke="#262626" stroke-width="1"/>
<text x="305.37" y="85.50" font-size="15.2" textLength="27.03" lengthAdjust="spacingAndGlyphs">1.50</text>
<line x1="336.50" y1="24.55" x2="340.70" y2="24.55" stroke="#262626" stroke-width="1"/>
<text x="305.37" y="30.35" font-size="15.2" textLength="27.03" lengthAdjust="spacingAndGlyphs">1.75</text>
<text x="462.30" y="465.50" font-size="15.2" textLength="10.20" lengthAdjust="spacingAndGlyphs" font-style="italic">ω</text>
<line x1="472.80" y1="469.30" x2="479.10" y2="454.50" stroke="#161616" stroke-width="0.95"/>
<path d="M480.90 462.30 l1.5 -0.9 l3.6 7.9 l5.2 -14.6 h18.7" fill="none" stroke="#161616" stroke-width="0.9" stroke-linejoin="miter"/>
<path d="M482.50 461.50 l3.3 7.4" fill="none" stroke="#161616" stroke-width="1.6"/>
<text x="491.50" y="465.50" font-size="15.4" textLength="6.6" lengthAdjust="spacingAndGlyphs" font-style="italic">r</text>
<text x="498.90" y="467.40" font-size="11.6" textLength="10.3" lengthAdjust="spacingAndGlyphs" font-style="italic">N</text>
<text x="509.90" y="465.80" font-size="16.8">(</text>
<path d="M518.60 458.10 L525.80 465.30 M518.60 465.30 L525.80 458.10" stroke="#161616" stroke-width="0.95" fill="none"/>
<text x="528.10" y="465.50" font-size="15.2" textLength="15.7" lengthAdjust="spacingAndGlyphs">10</text>
<line x1="544.00" y1="456.90" x2="549.70" y2="456.90" stroke="#161616" stroke-width="0.85"/>
<text x="550.60" y="460.30" font-size="12.2" textLength="5.5" lengthAdjust="spacingAndGlyphs">3</text>
<text x="556.70" y="465.80" font-size="16.8">)</text>
<text transform="translate(298.4 218.75) rotate(-90)" text-anchor="middle" font-size="15.5">DOS</text>
<text x="322.5" y="11.60" font-size="16.0">(d)</text>
<rect x="594.2" y="263.4" width="82.6" height="154.2" rx="2.6" ry="2.6" fill="#fff" fill-opacity="0.8" stroke="#cccccc" stroke-width="1"/>
<text x="631.0" y="280.6" font-size="14.6" textLength="9.2" lengthAdjust="spacingAndGlyphs" font-style="italic">α</text>
<line x1="600.2" y1="296.60" x2="632.5" y2="296.60" stroke="#1f77b4" stroke-width="1.70"/>
<text x="643.50" y="301.60" font-size="15.2" textLength="27.03" lengthAdjust="spacingAndGlyphs">0.25</text>
<line x1="600.2" y1="317.95" x2="632.5" y2="317.95" stroke="#ff7f0e" stroke-width="1.70"/>
<text x="643.50" y="322.95" font-size="15.2" textLength="19.43" lengthAdjust="spacingAndGlyphs">0.5</text>
<line x1="600.2" y1="339.30" x2="632.5" y2="339.30" stroke="#2ca02c" stroke-width="1.70"/>
<text x="643.50" y="344.30" font-size="15.2" textLength="19.43" lengthAdjust="spacingAndGlyphs">0.8</text>
<line x1="600.2" y1="360.65" x2="632.5" y2="360.65" stroke="#d62728" stroke-width="1.70"/>
<text x="643.50" y="365.65" font-size="15.2" textLength="11.83" lengthAdjust="spacingAndGlyphs">1.</text>
<line x1="600.2" y1="382.00" x2="632.5" y2="382.00" stroke="#9467bd" stroke-width="1.70"/>
<text x="643.50" y="387.00" font-size="15.2" textLength="19.43" lengthAdjust="spacingAndGlyphs">1.3</text>
<line x1="600.2" y1="403.35" x2="632.5" y2="403.35" stroke="#8c564b" stroke-width="1.70"/>
<text x="643.50" y="408.35" font-size="15.2" textLength="19.43" lengthAdjust="spacingAndGlyphs">1.6</text>
</svg>
</body></html>
